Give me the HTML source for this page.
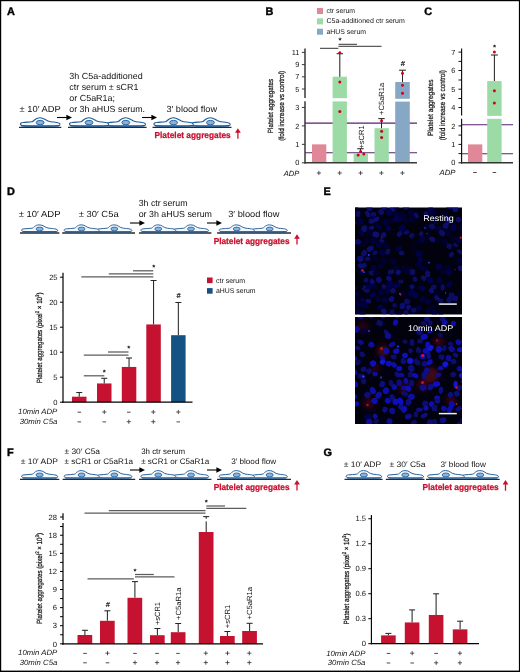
<!DOCTYPE html><html><head><meta charset="utf-8"><style>html,body{margin:0;padding:0;background:#fff}svg{display:block;will-change:transform;-webkit-font-smoothing:antialiased;text-rendering:geometricPrecision}</style></head><body>
<svg width="520" height="672" viewBox="0 0 520 672" font-family='"Liberation Sans", sans-serif'>
<rect x="0" y="0" width="520" height="672" fill="#fff"/>
<text x="6.9" y="14.7" font-size="10.9" text-anchor="start" font-weight="bold" font-style="normal" fill="#000" stroke="#000" stroke-width="0.4">A</text>
<text x="265.6" y="14.8" font-size="10.9" text-anchor="start" font-weight="bold" font-style="normal" fill="#000" stroke="#000" stroke-width="0.4">B</text>
<text x="424.3" y="14.8" font-size="10.9" text-anchor="start" font-weight="bold" font-style="normal" fill="#000" stroke="#000" stroke-width="0.4">C</text>
<text x="6.9" y="194.7" font-size="10.9" text-anchor="start" font-weight="bold" font-style="normal" fill="#000" stroke="#000" stroke-width="0.4">D</text>
<text x="323.6" y="195.2" font-size="10.9" text-anchor="start" font-weight="bold" font-style="normal" fill="#000" stroke="#000" stroke-width="0.4">E</text>
<text x="6.9" y="455.6" font-size="10.9" text-anchor="start" font-weight="bold" font-style="normal" fill="#000" stroke="#000" stroke-width="0.4">F</text>
<text x="323.6" y="455.6" font-size="10.9" text-anchor="start" font-weight="bold" font-style="normal" fill="#000" stroke="#000" stroke-width="0.4">G</text>
<text x="19.5" y="111.5" font-size="8.8" text-anchor="start" font-weight="normal" font-style="normal" fill="#111" textLength="41.2" lengthAdjust="spacingAndGlyphs">± 10′ ADP</text>
<text x="69.3" y="78.5" font-size="8.8" text-anchor="start" font-weight="normal" font-style="normal" fill="#111" textLength="73.4" lengthAdjust="spacingAndGlyphs">3h C5a-additioned</text>
<text x="69.3" y="89.5" font-size="8.8" text-anchor="start" font-weight="normal" font-style="normal" fill="#111" textLength="69.1" lengthAdjust="spacingAndGlyphs">ctr serum ± sCR1</text>
<text x="69.3" y="100.5" font-size="8.8" text-anchor="start" font-weight="normal" font-style="normal" fill="#111" textLength="45.7" lengthAdjust="spacingAndGlyphs">or C5aR1a;</text>
<text x="69.3" y="111.5" font-size="8.8" text-anchor="start" font-weight="normal" font-style="normal" fill="#111" textLength="75.7" lengthAdjust="spacingAndGlyphs">or 3h aHUS serum.</text>
<text x="166.5" y="111.5" font-size="8.8" text-anchor="start" font-weight="normal" font-style="normal" fill="#111" textLength="50.5" lengthAdjust="spacingAndGlyphs">3′ blood flow</text>
<line x1="57" y1="117.5" x2="69" y2="117.5" stroke="#000" stroke-width="1.1"/>
<path d="M 72,117.5 L 66.4,114.8 L 66.4,120.2 Z" fill="#000"/>
<line x1="142" y1="117.5" x2="154" y2="117.5" stroke="#000" stroke-width="1.1"/>
<path d="M 157,117.5 L 151.4,114.8 L 151.4,120.2 Z" fill="#000"/>
<line x1="19" y1="127.3" x2="61.3" y2="127.3" stroke="#2a2a2a" stroke-width="1.3"/>
<g transform="translate(20,117.35) scale(1.0075,1.0444)"><path d="M 0.5,6.8 C 0,5.6 1.5,5 3,4.9 C 6,4.6 9,4.5 11.7,4.2 C 14.2,3.9 14.3,0.55 19.5,0.35 C 24.7,0.15 25,3.6 30.3,4.2 C 33,4.5 35,4.6 36.5,4.9 C 38.5,5.3 40,5.8 39.6,7.2 C 39.3,8.3 37,8.4 20,8.4 C 3,8.4 1,8.2 0.5,6.8 Z" fill="#f6f9fd" stroke="#1d5c9a" stroke-width="1.05" stroke-linejoin="round"/><path d="M 1.5,8.3 L 38.5,8.3" stroke="#164a80" stroke-width="1.1"/><ellipse cx="20" cy="5.0" rx="3.9" ry="2.1" fill="#8db2da" stroke="#1d5c9a" stroke-width="0.9"/></g>
<line x1="68" y1="127.3" x2="146.6" y2="127.3" stroke="#2a2a2a" stroke-width="1.3"/>
<g transform="translate(105.80000000000001,117.35) scale(1.0000,1.0444)"><path d="M 0.5,6.8 C 0,5.6 1.5,5 3,4.9 C 6,4.6 9,4.5 11.7,4.2 C 14.2,3.9 14.3,0.55 19.5,0.35 C 24.7,0.15 25,3.6 30.3,4.2 C 33,4.5 35,4.6 36.5,4.9 C 38.5,5.3 40,5.8 39.6,7.2 C 39.3,8.3 37,8.4 20,8.4 C 3,8.4 1,8.2 0.5,6.8 Z" fill="#f6f9fd" stroke="#1d5c9a" stroke-width="1.05" stroke-linejoin="round"/><path d="M 1.5,8.3 L 38.5,8.3" stroke="#164a80" stroke-width="1.1"/><ellipse cx="20" cy="5.0" rx="3.9" ry="2.1" fill="#8db2da" stroke="#1d5c9a" stroke-width="0.9"/></g>
<g transform="translate(69,117.35) scale(1.0000,1.0444)"><path d="M 0.5,6.8 C 0,5.6 1.5,5 3,4.9 C 6,4.6 9,4.5 11.7,4.2 C 14.2,3.9 14.3,0.55 19.5,0.35 C 24.7,0.15 25,3.6 30.3,4.2 C 33,4.5 35,4.6 36.5,4.9 C 38.5,5.3 40,5.8 39.6,7.2 C 39.3,8.3 37,8.4 20,8.4 C 3,8.4 1,8.2 0.5,6.8 Z" fill="#f6f9fd" stroke="#1d5c9a" stroke-width="1.05" stroke-linejoin="round"/><path d="M 1.5,8.3 L 38.5,8.3" stroke="#164a80" stroke-width="1.1"/><ellipse cx="20" cy="5.0" rx="3.9" ry="2.1" fill="#8db2da" stroke="#1d5c9a" stroke-width="0.9"/></g>
<line x1="152.5" y1="127.3" x2="231.5" y2="127.3" stroke="#2a2a2a" stroke-width="1.3"/>
<g transform="translate(190.39583333333331,117.35) scale(1.0026,1.0444)"><path d="M 0.5,6.8 C 0,5.6 1.5,5 3,4.9 C 6,4.6 9,4.5 11.7,4.2 C 14.2,3.9 14.3,0.55 19.5,0.35 C 24.7,0.15 25,3.6 30.3,4.2 C 33,4.5 35,4.6 36.5,4.9 C 38.5,5.3 40,5.8 39.6,7.2 C 39.3,8.3 37,8.4 20,8.4 C 3,8.4 1,8.2 0.5,6.8 Z" fill="#f6f9fd" stroke="#1d5c9a" stroke-width="1.05" stroke-linejoin="round"/><path d="M 1.5,8.3 L 38.5,8.3" stroke="#164a80" stroke-width="1.1"/><ellipse cx="20" cy="5.0" rx="3.9" ry="2.1" fill="#8db2da" stroke="#1d5c9a" stroke-width="0.9"/></g>
<g transform="translate(153.5,117.35) scale(1.0026,1.0444)"><path d="M 0.5,6.8 C 0,5.6 1.5,5 3,4.9 C 6,4.6 9,4.5 11.7,4.2 C 14.2,3.9 14.3,0.55 19.5,0.35 C 24.7,0.15 25,3.6 30.3,4.2 C 33,4.5 35,4.6 36.5,4.9 C 38.5,5.3 40,5.8 39.6,7.2 C 39.3,8.3 37,8.4 20,8.4 C 3,8.4 1,8.2 0.5,6.8 Z" fill="#f6f9fd" stroke="#1d5c9a" stroke-width="1.05" stroke-linejoin="round"/><path d="M 1.5,8.3 L 38.5,8.3" stroke="#164a80" stroke-width="1.1"/><ellipse cx="20" cy="5.0" rx="3.9" ry="2.1" fill="#8db2da" stroke="#1d5c9a" stroke-width="0.9"/></g>
<text x="154.5" y="138" font-size="8.7" text-anchor="start" font-weight="bold" font-style="normal" fill="#c8102e" textLength="76.2" lengthAdjust="spacingAndGlyphs" stroke="#c8102e" stroke-width="0.25">Platelet aggregates</text>
<line x1="237.9" y1="130.4" x2="237.9" y2="138.8" stroke="#c8102e" stroke-width="1.3"/>
<path d="M 237.9,128.20000000000002 L 235.0,132.70000000000002 L 240.8,132.70000000000002 Z" fill="#c8102e"/>
<rect x="317" y="8.0" width="6" height="6" fill="#e08798"/>
<text x="326.5" y="13.2" font-size="6.9" text-anchor="start" font-weight="normal" font-style="normal" fill="#111" textLength="28.5" lengthAdjust="spacingAndGlyphs">ctr serum</text>
<rect x="317" y="18.35" width="6" height="6" fill="#9cdba5"/>
<text x="326.5" y="23.4" font-size="6.9" text-anchor="start" font-weight="normal" font-style="normal" fill="#111" textLength="78.3" lengthAdjust="spacingAndGlyphs">C5a-additioned ctr serum</text>
<rect x="317" y="28.7" width="6" height="6" fill="#87a8c5"/>
<text x="326.5" y="33.599999999999994" font-size="6.9" text-anchor="start" font-weight="normal" font-style="normal" fill="#111" textLength="39.5" lengthAdjust="spacingAndGlyphs">aHUS serum</text>
<line x1="305" y1="123.1" x2="417" y2="123.1" stroke="#581f72" stroke-width="1.1"/>
<line x1="305" y1="152.7" x2="417" y2="152.7" stroke="#581f72" stroke-width="1.1"/>
<rect x="312" y="144.35000000000002" width="14.3" height="18.44999999999999" fill="#e08798"/>
<rect x="332.6" y="76.7" width="14.3" height="86.10000000000001" fill="#9cdba5"/>
<rect x="353.7" y="153" width="14.3" height="9.800000000000011" fill="#9cdba5"/>
<rect x="374.5" y="128.2" width="14.3" height="34.60000000000002" fill="#9cdba5"/>
<rect x="395.2" y="82" width="14.6" height="80.80000000000001" fill="#87a8c5"/>
<rect x="330" y="98.2" width="20" height="3.2" fill="#fff"/>
<rect x="393" y="98.8" width="19" height="2.8" fill="#fff"/>
<line x1="339.8" y1="53.7" x2="339.8" y2="76.7" stroke="#262626" stroke-width="1.05"/>
<line x1="336.6" y1="53.7" x2="343.0" y2="53.7" stroke="#262626" stroke-width="1.05"/>
<line x1="360.5" y1="148.7" x2="360.5" y2="153" stroke="#262626" stroke-width="1.05"/>
<line x1="357.3" y1="148.7" x2="363.7" y2="148.7" stroke="#262626" stroke-width="1.05"/>
<line x1="381.5" y1="118.6" x2="381.5" y2="128.2" stroke="#262626" stroke-width="1.05"/>
<line x1="378.3" y1="118.6" x2="384.7" y2="118.6" stroke="#262626" stroke-width="1.05"/>
<line x1="402.5" y1="70.2" x2="402.5" y2="82" stroke="#262626" stroke-width="1.05"/>
<line x1="399.1" y1="70.2" x2="405.9" y2="70.2" stroke="#262626" stroke-width="1.05"/>
<circle cx="339.8" cy="52.8" r="1.5" fill="#d0021b"/>
<circle cx="339.8" cy="82" r="1.5" fill="#d0021b"/>
<circle cx="339.8" cy="111.5" r="1.5" fill="#d0021b"/>
<circle cx="358.2" cy="155" r="1.5" fill="#d0021b"/>
<circle cx="360.6" cy="151.6" r="1.5" fill="#d0021b"/>
<circle cx="363.8" cy="154" r="1.5" fill="#d0021b"/>
<circle cx="381.6" cy="120.8" r="1.5" fill="#d0021b"/>
<circle cx="381.6" cy="131.2" r="1.5" fill="#d0021b"/>
<circle cx="381.6" cy="137.5" r="1.5" fill="#d0021b"/>
<circle cx="402.5" cy="73.3" r="1.5" fill="#d0021b"/>
<circle cx="402.5" cy="85.2" r="1.5" fill="#d0021b"/>
<circle cx="402.5" cy="93.2" r="1.5" fill="#d0021b"/>
<line x1="305" y1="48.4" x2="305" y2="98" stroke="#383838" stroke-width="1.5"/>
<line x1="305" y1="101.2" x2="305" y2="163.5" stroke="#383838" stroke-width="1.5"/>
<line x1="304.3" y1="162.8" x2="417" y2="162.8" stroke="#383838" stroke-width="1.5"/>
<line x1="301.9" y1="52.400000000000006" x2="305" y2="52.400000000000006" stroke="#383838" stroke-width="1"/>
<text x="299.4" y="55.00000000000001" font-size="7.4" text-anchor="end" font-weight="normal" font-style="normal" fill="#111">11</text>
<line x1="301.9" y1="64.6" x2="305" y2="64.6" stroke="#383838" stroke-width="1"/>
<text x="299.4" y="67.19999999999999" font-size="7.4" text-anchor="end" font-weight="normal" font-style="normal" fill="#111">9</text>
<line x1="301.9" y1="76.8" x2="305" y2="76.8" stroke="#383838" stroke-width="1"/>
<text x="299.4" y="79.39999999999999" font-size="7.4" text-anchor="end" font-weight="normal" font-style="normal" fill="#111">7</text>
<line x1="301.9" y1="89.0" x2="305" y2="89.0" stroke="#383838" stroke-width="1"/>
<text x="299.4" y="91.6" font-size="7.4" text-anchor="end" font-weight="normal" font-style="normal" fill="#111">5</text>
<line x1="301.9" y1="107.45000000000002" x2="305" y2="107.45000000000002" stroke="#383838" stroke-width="1"/>
<text x="299.4" y="110.05000000000001" font-size="7.4" text-anchor="end" font-weight="normal" font-style="normal" fill="#111">3</text>
<line x1="301.9" y1="125.9" x2="305" y2="125.9" stroke="#383838" stroke-width="1"/>
<text x="299.4" y="128.5" font-size="7.4" text-anchor="end" font-weight="normal" font-style="normal" fill="#111">2</text>
<line x1="301.9" y1="144.35000000000002" x2="305" y2="144.35000000000002" stroke="#383838" stroke-width="1"/>
<text x="299.4" y="146.95000000000002" font-size="7.4" text-anchor="end" font-weight="normal" font-style="normal" fill="#111">1</text>
<line x1="301.9" y1="162.8" x2="305" y2="162.8" stroke="#383838" stroke-width="1"/>
<text x="299.4" y="165.4" font-size="7.4" text-anchor="end" font-weight="normal" font-style="normal" fill="#111">0</text>
<line x1="320" y1="48.3" x2="338.4" y2="48.3" stroke="#333" stroke-width="1"/>
<line x1="338.4" y1="46.3" x2="381.5" y2="46.3" stroke="#333" stroke-width="1"/>
<line x1="338.6" y1="44.3" x2="357" y2="44.3" stroke="#333" stroke-width="1"/>
<text x="340" y="42.800000000000004" font-size="7.8" text-anchor="middle" font-weight="bold" font-style="normal" fill="#000">*</text>
<text x="402.7" y="66.2" font-size="7.2" text-anchor="middle" font-weight="normal" font-style="italic" fill="#000" stroke="#000" stroke-width="0.15">#</text>
<text transform="translate(363.6,148.6) rotate(-90)" font-size="7.5" text-anchor="start" fill="#111" textLength="23.3" lengthAdjust="spacingAndGlyphs">+sCR1</text>
<text transform="translate(384.4,115) rotate(-90)" font-size="7.5" text-anchor="start" fill="#111" textLength="32.3" lengthAdjust="spacingAndGlyphs">+C5aR1a</text>
<text x="283.7" y="175.6" font-size="7.5" text-anchor="start" font-weight="normal" font-style="italic" fill="#111" textLength="15.6" lengthAdjust="spacingAndGlyphs">ADP</text>
<line x1="316.79999999999995" y1="173" x2="321.0" y2="173" stroke="#2a2a2a" stroke-width="0.78"/>
<line x1="318.9" y1="170.9" x2="318.9" y2="175.1" stroke="#2a2a2a" stroke-width="0.78"/>
<line x1="337.59999999999997" y1="173" x2="341.8" y2="173" stroke="#2a2a2a" stroke-width="0.78"/>
<line x1="339.7" y1="170.9" x2="339.7" y2="175.1" stroke="#2a2a2a" stroke-width="0.78"/>
<line x1="358.5" y1="173" x2="362.70000000000005" y2="173" stroke="#2a2a2a" stroke-width="0.78"/>
<line x1="360.6" y1="170.9" x2="360.6" y2="175.1" stroke="#2a2a2a" stroke-width="0.78"/>
<line x1="379.29999999999995" y1="173" x2="383.5" y2="173" stroke="#2a2a2a" stroke-width="0.78"/>
<line x1="381.4" y1="170.9" x2="381.4" y2="175.1" stroke="#2a2a2a" stroke-width="0.78"/>
<line x1="400.29999999999995" y1="173" x2="404.5" y2="173" stroke="#2a2a2a" stroke-width="0.78"/>
<line x1="402.4" y1="170.9" x2="402.4" y2="175.1" stroke="#2a2a2a" stroke-width="0.78"/>
<text transform="translate(273.1,133.2) rotate(-90)" font-size="7.5" text-anchor="start" fill="#111" textLength="54.3" lengthAdjust="spacingAndGlyphs" stroke="#111" stroke-width="0.22">Platelet aggregates</text>
<text transform="translate(284.2,140.8) rotate(-90)" font-size="7.5" text-anchor="start" fill="#111" textLength="70" lengthAdjust="spacingAndGlyphs" stroke="#111" stroke-width="0.22">(fold increase vs control)</text>
<line x1="461.6" y1="124.8" x2="513" y2="124.8" stroke="#581f72" stroke-width="1.05"/>
<line x1="461.6" y1="153.8" x2="513" y2="153.8" stroke="#581f72" stroke-width="1.05"/>
<rect x="468" y="144.4" width="14.3" height="18.400000000000006" fill="#e08798"/>
<rect x="487.2" y="81.1" width="14.4" height="81.70000000000002" fill="#9cdba5"/>
<rect x="485" y="115.9" width="19" height="2.9" fill="#fff"/>
<line x1="494.4" y1="55" x2="494.4" y2="81.1" stroke="#262626" stroke-width="1.05"/>
<line x1="490.95" y1="55" x2="497.84999999999997" y2="55" stroke="#262626" stroke-width="1.05"/>
<circle cx="494.4" cy="52.1" r="1.5" fill="#d0021b"/>
<circle cx="494.4" cy="90.7" r="1.5" fill="#d0021b"/>
<circle cx="494.4" cy="103" r="1.5" fill="#d0021b"/>
<line x1="461.6" y1="48.4" x2="461.6" y2="115.6" stroke="#111" stroke-width="1.15"/>
<line x1="461.6" y1="118.8" x2="461.6" y2="163.4" stroke="#111" stroke-width="1.15"/>
<line x1="461" y1="162.8" x2="513" y2="162.8" stroke="#333" stroke-width="1.4"/>
<line x1="458.5" y1="52.1" x2="461.6" y2="52.1" stroke="#111" stroke-width="1"/>
<text x="455.4" y="54.7" font-size="7.4" text-anchor="end" font-weight="normal" font-style="normal" fill="#111">7</text>
<line x1="458.5" y1="70.5" x2="461.6" y2="70.5" stroke="#111" stroke-width="1"/>
<text x="455.4" y="73.1" font-size="7.4" text-anchor="end" font-weight="normal" font-style="normal" fill="#111">6</text>
<line x1="458.5" y1="89.2" x2="461.6" y2="89.2" stroke="#111" stroke-width="1"/>
<text x="455.4" y="91.8" font-size="7.4" text-anchor="end" font-weight="normal" font-style="normal" fill="#111">5</text>
<line x1="458.5" y1="107.5" x2="461.6" y2="107.5" stroke="#111" stroke-width="1"/>
<text x="455.4" y="110.1" font-size="7.4" text-anchor="end" font-weight="normal" font-style="normal" fill="#111">4</text>
<line x1="458.5" y1="125.9" x2="461.6" y2="125.9" stroke="#111" stroke-width="1"/>
<text x="455.4" y="128.5" font-size="7.4" text-anchor="end" font-weight="normal" font-style="normal" fill="#111">2</text>
<line x1="458.5" y1="144.4" x2="461.6" y2="144.4" stroke="#111" stroke-width="1"/>
<text x="455.4" y="147.0" font-size="7.4" text-anchor="end" font-weight="normal" font-style="normal" fill="#111">1</text>
<line x1="458.5" y1="162.8" x2="461.6" y2="162.8" stroke="#111" stroke-width="1"/>
<text x="455.4" y="165.4" font-size="7.4" text-anchor="end" font-weight="normal" font-style="normal" fill="#111">0</text>
<line x1="458.5" y1="61.4" x2="461.6" y2="61.4" stroke="#111" stroke-width="1"/>
<line x1="458.5" y1="80" x2="461.6" y2="80" stroke="#111" stroke-width="1"/>
<line x1="458.5" y1="98.5" x2="461.6" y2="98.5" stroke="#111" stroke-width="1"/>
<line x1="458.5" y1="135.1" x2="461.6" y2="135.1" stroke="#111" stroke-width="1"/>
<line x1="458.5" y1="153.6" x2="461.6" y2="153.6" stroke="#111" stroke-width="1"/>
<text x="494.4" y="50.1" font-size="7.8" text-anchor="middle" font-weight="bold" font-style="normal" fill="#000">*</text>
<text x="439.5" y="175" font-size="7.5" text-anchor="start" font-weight="normal" font-style="italic" fill="#111" textLength="16" lengthAdjust="spacingAndGlyphs">ADP</text>
<line x1="473.2" y1="172.5" x2="476.8" y2="172.5" stroke="#2a2a2a" stroke-width="0.85"/>
<line x1="492.59999999999997" y1="172.5" x2="496.2" y2="172.5" stroke="#2a2a2a" stroke-width="0.85"/>
<text transform="translate(433,136) rotate(-90)" font-size="7.7" text-anchor="start" fill="#111" textLength="56.6" lengthAdjust="spacingAndGlyphs" stroke="#111" stroke-width="0.22">Platelet aggregates</text>
<text transform="translate(445,140.3) rotate(-90)" font-size="7.7" text-anchor="start" fill="#111" textLength="70.3" lengthAdjust="spacingAndGlyphs" stroke="#111" stroke-width="0.22">(fold increase vs control)</text>
<text x="18.7" y="217" font-size="8.8" text-anchor="start" font-weight="normal" font-style="normal" fill="#111" textLength="41.8" lengthAdjust="spacingAndGlyphs">± 10′ ADP</text>
<text x="78.7" y="217" font-size="8.8" text-anchor="start" font-weight="normal" font-style="normal" fill="#111" textLength="40" lengthAdjust="spacingAndGlyphs">± 30′ C5a</text>
<text x="138.7" y="205.5" font-size="8.8" text-anchor="start" font-weight="normal" font-style="normal" fill="#111" textLength="48.8" lengthAdjust="spacingAndGlyphs">3h ctr serum</text>
<text x="138.7" y="217" font-size="8.8" text-anchor="start" font-weight="normal" font-style="normal" fill="#111" textLength="73.3" lengthAdjust="spacingAndGlyphs">or 3h aHUS serum</text>
<text x="228.2" y="217" font-size="8.8" text-anchor="start" font-weight="normal" font-style="normal" fill="#111" textLength="51.3" lengthAdjust="spacingAndGlyphs">3′ blood flow</text>
<line x1="20" y1="233" x2="59.3" y2="233" stroke="#2a2a2a" stroke-width="1.3"/>
<g transform="translate(21.2,224.55) scale(0.9200,0.8778)"><path d="M 0.5,6.8 C 0,5.6 1.5,5 3,4.9 C 6,4.6 9,4.5 11.7,4.2 C 14.2,3.9 14.3,0.55 19.5,0.35 C 24.7,0.15 25,3.6 30.3,4.2 C 33,4.5 35,4.6 36.5,4.9 C 38.5,5.3 40,5.8 39.6,7.2 C 39.3,8.3 37,8.4 20,8.4 C 3,8.4 1,8.2 0.5,6.8 Z" fill="#f6f9fd" stroke="#1d5c9a" stroke-width="1.05" stroke-linejoin="round"/><path d="M 1.5,8.3 L 38.5,8.3" stroke="#164a80" stroke-width="1.1"/><ellipse cx="20" cy="5.0" rx="3.9" ry="2.1" fill="#8db2da" stroke="#1d5c9a" stroke-width="0.9"/></g>
<line x1="62.2" y1="233" x2="135" y2="233" stroke="#2a2a2a" stroke-width="1.3"/>
<g transform="translate(96.52291666666666,224.55) scale(0.8919,0.8778)"><path d="M 0.5,6.8 C 0,5.6 1.5,5 3,4.9 C 6,4.6 9,4.5 11.7,4.2 C 14.2,3.9 14.3,0.55 19.5,0.35 C 24.7,0.15 25,3.6 30.3,4.2 C 33,4.5 35,4.6 36.5,4.9 C 38.5,5.3 40,5.8 39.6,7.2 C 39.3,8.3 37,8.4 20,8.4 C 3,8.4 1,8.2 0.5,6.8 Z" fill="#f6f9fd" stroke="#1d5c9a" stroke-width="1.05" stroke-linejoin="round"/><path d="M 1.5,8.3 L 38.5,8.3" stroke="#164a80" stroke-width="1.1"/><ellipse cx="20" cy="5.0" rx="3.9" ry="2.1" fill="#8db2da" stroke="#1d5c9a" stroke-width="0.9"/></g>
<g transform="translate(63.7,224.55) scale(0.8919,0.8778)"><path d="M 0.5,6.8 C 0,5.6 1.5,5 3,4.9 C 6,4.6 9,4.5 11.7,4.2 C 14.2,3.9 14.3,0.55 19.5,0.35 C 24.7,0.15 25,3.6 30.3,4.2 C 33,4.5 35,4.6 36.5,4.9 C 38.5,5.3 40,5.8 39.6,7.2 C 39.3,8.3 37,8.4 20,8.4 C 3,8.4 1,8.2 0.5,6.8 Z" fill="#f6f9fd" stroke="#1d5c9a" stroke-width="1.05" stroke-linejoin="round"/><path d="M 1.5,8.3 L 38.5,8.3" stroke="#164a80" stroke-width="1.1"/><ellipse cx="20" cy="5.0" rx="3.9" ry="2.1" fill="#8db2da" stroke="#1d5c9a" stroke-width="0.9"/></g>
<line x1="139" y1="233" x2="211.4" y2="233" stroke="#2a2a2a" stroke-width="1.3"/>
<g transform="translate(173.22708333333333,224.55) scale(0.8893,0.8778)"><path d="M 0.5,6.8 C 0,5.6 1.5,5 3,4.9 C 6,4.6 9,4.5 11.7,4.2 C 14.2,3.9 14.3,0.55 19.5,0.35 C 24.7,0.15 25,3.6 30.3,4.2 C 33,4.5 35,4.6 36.5,4.9 C 38.5,5.3 40,5.8 39.6,7.2 C 39.3,8.3 37,8.4 20,8.4 C 3,8.4 1,8.2 0.5,6.8 Z" fill="#f6f9fd" stroke="#1d5c9a" stroke-width="1.05" stroke-linejoin="round"/><path d="M 1.5,8.3 L 38.5,8.3" stroke="#164a80" stroke-width="1.1"/><ellipse cx="20" cy="5.0" rx="3.9" ry="2.1" fill="#8db2da" stroke="#1d5c9a" stroke-width="0.9"/></g>
<g transform="translate(140.5,224.55) scale(0.8893,0.8778)"><path d="M 0.5,6.8 C 0,5.6 1.5,5 3,4.9 C 6,4.6 9,4.5 11.7,4.2 C 14.2,3.9 14.3,0.55 19.5,0.35 C 24.7,0.15 25,3.6 30.3,4.2 C 33,4.5 35,4.6 36.5,4.9 C 38.5,5.3 40,5.8 39.6,7.2 C 39.3,8.3 37,8.4 20,8.4 C 3,8.4 1,8.2 0.5,6.8 Z" fill="#f6f9fd" stroke="#1d5c9a" stroke-width="1.05" stroke-linejoin="round"/><path d="M 1.5,8.3 L 38.5,8.3" stroke="#164a80" stroke-width="1.1"/><ellipse cx="20" cy="5.0" rx="3.9" ry="2.1" fill="#8db2da" stroke="#1d5c9a" stroke-width="0.9"/></g>
<line x1="217.1" y1="233" x2="291" y2="233" stroke="#2a2a2a" stroke-width="1.3"/>
<g transform="translate(251.76666666666668,224.55) scale(0.8958,0.8778)"><path d="M 0.5,6.8 C 0,5.6 1.5,5 3,4.9 C 6,4.6 9,4.5 11.7,4.2 C 14.2,3.9 14.3,0.55 19.5,0.35 C 24.7,0.15 25,3.6 30.3,4.2 C 33,4.5 35,4.6 36.5,4.9 C 38.5,5.3 40,5.8 39.6,7.2 C 39.3,8.3 37,8.4 20,8.4 C 3,8.4 1,8.2 0.5,6.8 Z" fill="#f6f9fd" stroke="#1d5c9a" stroke-width="1.05" stroke-linejoin="round"/><path d="M 1.5,8.3 L 38.5,8.3" stroke="#164a80" stroke-width="1.1"/><ellipse cx="20" cy="5.0" rx="3.9" ry="2.1" fill="#8db2da" stroke="#1d5c9a" stroke-width="0.9"/></g>
<g transform="translate(218.8,224.55) scale(0.8958,0.8778)"><path d="M 0.5,6.8 C 0,5.6 1.5,5 3,4.9 C 6,4.6 9,4.5 11.7,4.2 C 14.2,3.9 14.3,0.55 19.5,0.35 C 24.7,0.15 25,3.6 30.3,4.2 C 33,4.5 35,4.6 36.5,4.9 C 38.5,5.3 40,5.8 39.6,7.2 C 39.3,8.3 37,8.4 20,8.4 C 3,8.4 1,8.2 0.5,6.8 Z" fill="#f6f9fd" stroke="#1d5c9a" stroke-width="1.05" stroke-linejoin="round"/><path d="M 1.5,8.3 L 38.5,8.3" stroke="#164a80" stroke-width="1.1"/><ellipse cx="20" cy="5.0" rx="3.9" ry="2.1" fill="#8db2da" stroke="#1d5c9a" stroke-width="0.9"/></g>
<line x1="130" y1="223" x2="142" y2="223" stroke="#000" stroke-width="1.1"/>
<path d="M 145,223 L 139.4,220.3 L 139.4,225.7 Z" fill="#000"/>
<line x1="207" y1="223" x2="219" y2="223" stroke="#000" stroke-width="1.1"/>
<path d="M 222,223 L 216.4,220.3 L 216.4,225.7 Z" fill="#000"/>
<text x="213.7" y="244.3" font-size="8.7" text-anchor="start" font-weight="bold" font-style="normal" fill="#c8102e" textLength="75.8" lengthAdjust="spacingAndGlyphs" stroke="#c8102e" stroke-width="0.25">Platelet aggregates</text>
<line x1="297" y1="236.4" x2="297" y2="244.6" stroke="#c8102e" stroke-width="1.3"/>
<path d="M 297,234.20000000000002 L 294.1,238.70000000000002 L 299.9,238.70000000000002 Z" fill="#c8102e"/>
<line x1="79.25" y1="392.5" x2="79.25" y2="396.7" stroke="#262626" stroke-width="1.05"/>
<line x1="76.25" y1="392.5" x2="82.25" y2="392.5" stroke="#262626" stroke-width="1.05"/>
<rect x="72" y="396.7" width="14.5" height="5.5" fill="#c41230"/>
<line x1="104.25" y1="378.3" x2="104.25" y2="383.45" stroke="#262626" stroke-width="1.05"/>
<line x1="101.25" y1="378.3" x2="107.25" y2="378.3" stroke="#262626" stroke-width="1.05"/>
<rect x="97" y="383.45" width="14.5" height="18.75" fill="#c41230"/>
<line x1="129.05" y1="358" x2="129.05" y2="366.95" stroke="#262626" stroke-width="1.05"/>
<line x1="126.05000000000001" y1="358" x2="132.05" y2="358" stroke="#262626" stroke-width="1.05"/>
<rect x="121.8" y="366.95" width="14.5" height="35.25" fill="#c41230"/>
<line x1="153.55" y1="280.5" x2="153.55" y2="324.45" stroke="#262626" stroke-width="1.05"/>
<line x1="150.55" y1="280.5" x2="156.55" y2="280.5" stroke="#262626" stroke-width="1.05"/>
<rect x="146.3" y="324.45" width="14.5" height="77.75" fill="#c41230"/>
<line x1="178.35" y1="302.5" x2="178.35" y2="335.2" stroke="#262626" stroke-width="1.05"/>
<line x1="175.35" y1="302.5" x2="181.35" y2="302.5" stroke="#262626" stroke-width="1.05"/>
<rect x="171.1" y="335.2" width="14.5" height="67.0" fill="#145284"/>
<line x1="63" y1="272.8" x2="63" y2="402.8" stroke="#000" stroke-width="1.2"/>
<line x1="62.4" y1="402.2" x2="192.5" y2="402.2" stroke="#000" stroke-width="1.2"/>
<line x1="60" y1="402.2" x2="63" y2="402.2" stroke="#000" stroke-width="1"/>
<text x="57.6" y="404.9" font-size="7.6" text-anchor="end" font-weight="normal" font-style="normal" fill="#111">0</text>
<line x1="60" y1="377.2" x2="63" y2="377.2" stroke="#000" stroke-width="1"/>
<text x="57.6" y="379.9" font-size="7.6" text-anchor="end" font-weight="normal" font-style="normal" fill="#111">5</text>
<line x1="60" y1="352.2" x2="63" y2="352.2" stroke="#000" stroke-width="1"/>
<text x="57.6" y="354.9" font-size="7.6" text-anchor="end" font-weight="normal" font-style="normal" fill="#111">10</text>
<line x1="60" y1="327.2" x2="63" y2="327.2" stroke="#000" stroke-width="1"/>
<text x="57.6" y="329.9" font-size="7.6" text-anchor="end" font-weight="normal" font-style="normal" fill="#111">15</text>
<line x1="60" y1="302.2" x2="63" y2="302.2" stroke="#000" stroke-width="1"/>
<text x="57.6" y="304.9" font-size="7.6" text-anchor="end" font-weight="normal" font-style="normal" fill="#111">20</text>
<line x1="60" y1="277.2" x2="63" y2="277.2" stroke="#000" stroke-width="1"/>
<text x="57.6" y="279.9" font-size="7.6" text-anchor="end" font-weight="normal" font-style="normal" fill="#111">25</text>
<line x1="81.3" y1="276.9" x2="153.3" y2="276.9" stroke="#5c5c5c" stroke-width="1.25"/>
<line x1="108.8" y1="273.9" x2="153.3" y2="273.9" stroke="#5c5c5c" stroke-width="1.25"/>
<line x1="133" y1="270.8" x2="153.3" y2="270.8" stroke="#5c5c5c" stroke-width="1.25"/>
<line x1="83.8" y1="355" x2="128.5" y2="355" stroke="#5c5c5c" stroke-width="1.25"/>
<line x1="108" y1="352" x2="128.5" y2="352" stroke="#5c5c5c" stroke-width="1.25"/>
<line x1="83.8" y1="375.8" x2="104.3" y2="375.8" stroke="#5c5c5c" stroke-width="1.25"/>
<text x="153.8" y="269.5" font-size="7.8" text-anchor="middle" font-weight="bold" font-style="normal" fill="#000">*</text>
<text x="128.8" y="351.0" font-size="7.8" text-anchor="middle" font-weight="bold" font-style="normal" fill="#000">*</text>
<text x="104.3" y="375.4" font-size="7.8" text-anchor="middle" font-weight="bold" font-style="normal" fill="#000">*</text>
<text x="178.5" y="298.4" font-size="7.2" text-anchor="middle" font-weight="normal" font-style="italic" fill="#000" stroke="#000" stroke-width="0.15">#</text>
<rect x="207" y="277.5" width="5.6" height="5.6" fill="#c41230"/>
<rect x="207" y="288.1" width="5.6" height="5.6" fill="#145284"/>
<text x="216" y="282.6" font-size="6.9" text-anchor="start" font-weight="normal" font-style="normal" fill="#111" textLength="29" lengthAdjust="spacingAndGlyphs">ctr serum</text>
<text x="216" y="293.1" font-size="6.9" text-anchor="start" font-weight="normal" font-style="normal" fill="#111" textLength="39.5" lengthAdjust="spacingAndGlyphs">aHUS serum</text>
<text x="57.3" y="414.3" font-size="7.6" text-anchor="end" font-weight="normal" font-style="italic" fill="#111" textLength="39.2" lengthAdjust="spacingAndGlyphs">10min ADP</text>
<text x="57.3" y="423.9" font-size="7.6" text-anchor="end" font-weight="normal" font-style="italic" fill="#111" textLength="37.6" lengthAdjust="spacingAndGlyphs">30min C5a</text>
<line x1="77.5" y1="412.2" x2="81.1" y2="412.2" stroke="#2a2a2a" stroke-width="0.85"/>
<line x1="77.5" y1="421.9" x2="81.1" y2="421.9" stroke="#2a2a2a" stroke-width="0.85"/>
<line x1="102.2" y1="412" x2="106.39999999999999" y2="412" stroke="#2a2a2a" stroke-width="0.78"/>
<line x1="104.3" y1="409.9" x2="104.3" y2="414.1" stroke="#2a2a2a" stroke-width="0.78"/>
<line x1="102.5" y1="421.9" x2="106.1" y2="421.9" stroke="#2a2a2a" stroke-width="0.85"/>
<line x1="127.00000000000001" y1="412.2" x2="130.60000000000002" y2="412.2" stroke="#2a2a2a" stroke-width="0.85"/>
<line x1="126.70000000000002" y1="421.7" x2="130.9" y2="421.7" stroke="#2a2a2a" stroke-width="0.78"/>
<line x1="128.8" y1="419.59999999999997" x2="128.8" y2="423.8" stroke="#2a2a2a" stroke-width="0.78"/>
<line x1="151.20000000000002" y1="412" x2="155.4" y2="412" stroke="#2a2a2a" stroke-width="0.78"/>
<line x1="153.3" y1="409.9" x2="153.3" y2="414.1" stroke="#2a2a2a" stroke-width="0.78"/>
<line x1="151.20000000000002" y1="421.7" x2="155.4" y2="421.7" stroke="#2a2a2a" stroke-width="0.78"/>
<line x1="153.3" y1="419.59999999999997" x2="153.3" y2="423.8" stroke="#2a2a2a" stroke-width="0.78"/>
<line x1="176.20000000000002" y1="412" x2="180.4" y2="412" stroke="#2a2a2a" stroke-width="0.78"/>
<line x1="178.3" y1="409.9" x2="178.3" y2="414.1" stroke="#2a2a2a" stroke-width="0.78"/>
<line x1="176.5" y1="421.9" x2="180.10000000000002" y2="421.9" stroke="#2a2a2a" stroke-width="0.85"/>
<text transform="translate(42,383.2) rotate(-90)" font-size="7.5" text-anchor="start" fill="#111" textLength="90.7" lengthAdjust="spacingAndGlyphs" stroke="#111" stroke-width="0.22">Platelet aggregates (pixel<tspan dy="-2.6" font-size="5.2">2</tspan><tspan dy="2.6"> × 10</tspan><tspan dy="-2.6" font-size="5.2">3</tspan><tspan dy="2.6">)</tspan></text>
<text x="20.7" y="463.8" font-size="8.0" text-anchor="start" font-weight="normal" font-style="normal" fill="#111" textLength="37.3" lengthAdjust="spacingAndGlyphs">± 10′ ADP</text>
<text x="64.5" y="453.8" font-size="8.0" text-anchor="start" font-weight="normal" font-style="normal" fill="#111" textLength="35.5" lengthAdjust="spacingAndGlyphs">± 30′ C5a</text>
<text x="64.5" y="463.8" font-size="8.0" text-anchor="start" font-weight="normal" font-style="normal" fill="#111" textLength="68.5" lengthAdjust="spacingAndGlyphs">± sCR1 or C5aR1a</text>
<text x="141.2" y="453.8" font-size="8.0" text-anchor="start" font-weight="normal" font-style="normal" fill="#111" textLength="43.8" lengthAdjust="spacingAndGlyphs">3h ctr serum</text>
<text x="141.2" y="463.8" font-size="8.0" text-anchor="start" font-weight="normal" font-style="normal" fill="#111" textLength="68" lengthAdjust="spacingAndGlyphs">± sCR1 or C5aR1a</text>
<text x="231.2" y="463.8" font-size="8.0" text-anchor="start" font-weight="normal" font-style="normal" fill="#111" textLength="45" lengthAdjust="spacingAndGlyphs">3′ blood flow</text>
<line x1="20" y1="479.3" x2="59.3" y2="479.3" stroke="#2a2a2a" stroke-width="1.3"/>
<g transform="translate(21.2,470.25) scale(0.9200,0.9444)"><path d="M 0.5,6.8 C 0,5.6 1.5,5 3,4.9 C 6,4.6 9,4.5 11.7,4.2 C 14.2,3.9 14.3,0.55 19.5,0.35 C 24.7,0.15 25,3.6 30.3,4.2 C 33,4.5 35,4.6 36.5,4.9 C 38.5,5.3 40,5.8 39.6,7.2 C 39.3,8.3 37,8.4 20,8.4 C 3,8.4 1,8.2 0.5,6.8 Z" fill="#f6f9fd" stroke="#1d5c9a" stroke-width="1.05" stroke-linejoin="round"/><path d="M 1.5,8.3 L 38.5,8.3" stroke="#164a80" stroke-width="1.1"/><ellipse cx="20" cy="5.0" rx="3.9" ry="2.1" fill="#8db2da" stroke="#1d5c9a" stroke-width="0.9"/></g>
<line x1="62.6" y1="479.3" x2="135.2" y2="479.3" stroke="#2a2a2a" stroke-width="1.3"/>
<g transform="translate(96.57499999999999,470.25) scale(0.8906,0.9444)"><path d="M 0.5,6.8 C 0,5.6 1.5,5 3,4.9 C 6,4.6 9,4.5 11.7,4.2 C 14.2,3.9 14.3,0.55 19.5,0.35 C 24.7,0.15 25,3.6 30.3,4.2 C 33,4.5 35,4.6 36.5,4.9 C 38.5,5.3 40,5.8 39.6,7.2 C 39.3,8.3 37,8.4 20,8.4 C 3,8.4 1,8.2 0.5,6.8 Z" fill="#f6f9fd" stroke="#1d5c9a" stroke-width="1.05" stroke-linejoin="round"/><path d="M 1.5,8.3 L 38.5,8.3" stroke="#164a80" stroke-width="1.1"/><ellipse cx="20" cy="5.0" rx="3.9" ry="2.1" fill="#8db2da" stroke="#1d5c9a" stroke-width="0.9"/></g>
<g transform="translate(63.8,470.25) scale(0.8906,0.9444)"><path d="M 0.5,6.8 C 0,5.6 1.5,5 3,4.9 C 6,4.6 9,4.5 11.7,4.2 C 14.2,3.9 14.3,0.55 19.5,0.35 C 24.7,0.15 25,3.6 30.3,4.2 C 33,4.5 35,4.6 36.5,4.9 C 38.5,5.3 40,5.8 39.6,7.2 C 39.3,8.3 37,8.4 20,8.4 C 3,8.4 1,8.2 0.5,6.8 Z" fill="#f6f9fd" stroke="#1d5c9a" stroke-width="1.05" stroke-linejoin="round"/><path d="M 1.5,8.3 L 38.5,8.3" stroke="#164a80" stroke-width="1.1"/><ellipse cx="20" cy="5.0" rx="3.9" ry="2.1" fill="#8db2da" stroke="#1d5c9a" stroke-width="0.9"/></g>
<line x1="139" y1="479.3" x2="211.4" y2="479.3" stroke="#2a2a2a" stroke-width="1.3"/>
<g transform="translate(173.22708333333333,470.25) scale(0.8893,0.9444)"><path d="M 0.5,6.8 C 0,5.6 1.5,5 3,4.9 C 6,4.6 9,4.5 11.7,4.2 C 14.2,3.9 14.3,0.55 19.5,0.35 C 24.7,0.15 25,3.6 30.3,4.2 C 33,4.5 35,4.6 36.5,4.9 C 38.5,5.3 40,5.8 39.6,7.2 C 39.3,8.3 37,8.4 20,8.4 C 3,8.4 1,8.2 0.5,6.8 Z" fill="#f6f9fd" stroke="#1d5c9a" stroke-width="1.05" stroke-linejoin="round"/><path d="M 1.5,8.3 L 38.5,8.3" stroke="#164a80" stroke-width="1.1"/><ellipse cx="20" cy="5.0" rx="3.9" ry="2.1" fill="#8db2da" stroke="#1d5c9a" stroke-width="0.9"/></g>
<g transform="translate(140.5,470.25) scale(0.8893,0.9444)"><path d="M 0.5,6.8 C 0,5.6 1.5,5 3,4.9 C 6,4.6 9,4.5 11.7,4.2 C 14.2,3.9 14.3,0.55 19.5,0.35 C 24.7,0.15 25,3.6 30.3,4.2 C 33,4.5 35,4.6 36.5,4.9 C 38.5,5.3 40,5.8 39.6,7.2 C 39.3,8.3 37,8.4 20,8.4 C 3,8.4 1,8.2 0.5,6.8 Z" fill="#f6f9fd" stroke="#1d5c9a" stroke-width="1.05" stroke-linejoin="round"/><path d="M 1.5,8.3 L 38.5,8.3" stroke="#164a80" stroke-width="1.1"/><ellipse cx="20" cy="5.0" rx="3.9" ry="2.1" fill="#8db2da" stroke="#1d5c9a" stroke-width="0.9"/></g>
<line x1="217.1" y1="479.3" x2="291" y2="479.3" stroke="#2a2a2a" stroke-width="1.3"/>
<g transform="translate(251.76666666666668,470.25) scale(0.8958,0.9444)"><path d="M 0.5,6.8 C 0,5.6 1.5,5 3,4.9 C 6,4.6 9,4.5 11.7,4.2 C 14.2,3.9 14.3,0.55 19.5,0.35 C 24.7,0.15 25,3.6 30.3,4.2 C 33,4.5 35,4.6 36.5,4.9 C 38.5,5.3 40,5.8 39.6,7.2 C 39.3,8.3 37,8.4 20,8.4 C 3,8.4 1,8.2 0.5,6.8 Z" fill="#f6f9fd" stroke="#1d5c9a" stroke-width="1.05" stroke-linejoin="round"/><path d="M 1.5,8.3 L 38.5,8.3" stroke="#164a80" stroke-width="1.1"/><ellipse cx="20" cy="5.0" rx="3.9" ry="2.1" fill="#8db2da" stroke="#1d5c9a" stroke-width="0.9"/></g>
<g transform="translate(218.8,470.25) scale(0.8958,0.9444)"><path d="M 0.5,6.8 C 0,5.6 1.5,5 3,4.9 C 6,4.6 9,4.5 11.7,4.2 C 14.2,3.9 14.3,0.55 19.5,0.35 C 24.7,0.15 25,3.6 30.3,4.2 C 33,4.5 35,4.6 36.5,4.9 C 38.5,5.3 40,5.8 39.6,7.2 C 39.3,8.3 37,8.4 20,8.4 C 3,8.4 1,8.2 0.5,6.8 Z" fill="#f6f9fd" stroke="#1d5c9a" stroke-width="1.05" stroke-linejoin="round"/><path d="M 1.5,8.3 L 38.5,8.3" stroke="#164a80" stroke-width="1.1"/><ellipse cx="20" cy="5.0" rx="3.9" ry="2.1" fill="#8db2da" stroke="#1d5c9a" stroke-width="0.9"/></g>
<line x1="130" y1="470" x2="142" y2="470" stroke="#000" stroke-width="1.1"/>
<path d="M 145,470 L 139.4,467.3 L 139.4,472.7 Z" fill="#000"/>
<line x1="207" y1="470" x2="219" y2="470" stroke="#000" stroke-width="1.1"/>
<path d="M 222,470 L 216.4,467.3 L 216.4,472.7 Z" fill="#000"/>
<text x="213.7" y="490" font-size="8.7" text-anchor="start" font-weight="bold" font-style="normal" fill="#c8102e" textLength="75.8" lengthAdjust="spacingAndGlyphs" stroke="#c8102e" stroke-width="0.25">Platelet aggregates</text>
<line x1="297" y1="482.3" x2="297" y2="490.5" stroke="#c8102e" stroke-width="1.3"/>
<path d="M 297,480.1 L 294.1,484.6 L 299.9,484.6 Z" fill="#c8102e"/>
<line x1="84.9" y1="630.3" x2="84.9" y2="635" stroke="#262626" stroke-width="1.05"/>
<line x1="81.9" y1="630.3" x2="87.9" y2="630.3" stroke="#262626" stroke-width="1.05"/>
<rect x="77.5" y="635" width="14.7" height="8.799999999999955" fill="#c41230"/>
<line x1="107.4" y1="610.8" x2="107.4" y2="620.8" stroke="#262626" stroke-width="1.05"/>
<line x1="104.4" y1="610.8" x2="110.4" y2="610.8" stroke="#262626" stroke-width="1.05"/>
<rect x="100" y="620.8" width="14.7" height="23.0" fill="#c41230"/>
<line x1="134.9" y1="581.6" x2="134.9" y2="597.8" stroke="#262626" stroke-width="1.05"/>
<line x1="131.9" y1="581.6" x2="137.9" y2="581.6" stroke="#262626" stroke-width="1.05"/>
<rect x="127.5" y="597.8" width="14.7" height="46.0" fill="#c41230"/>
<line x1="157.4" y1="628.5" x2="157.4" y2="635.2" stroke="#262626" stroke-width="1.05"/>
<line x1="154.4" y1="628.5" x2="160.4" y2="628.5" stroke="#262626" stroke-width="1.05"/>
<rect x="150" y="635.2" width="14.7" height="8.599999999999909" fill="#c41230"/>
<line x1="178.20000000000002" y1="623.5" x2="178.20000000000002" y2="632.2" stroke="#262626" stroke-width="1.05"/>
<line x1="175.20000000000002" y1="623.5" x2="181.20000000000002" y2="623.5" stroke="#262626" stroke-width="1.05"/>
<rect x="170.8" y="632.2" width="14.7" height="11.599999999999909" fill="#c41230"/>
<line x1="206.20000000000002" y1="516.6" x2="206.20000000000002" y2="532" stroke="#262626" stroke-width="1.05"/>
<line x1="203.20000000000002" y1="516.6" x2="209.20000000000002" y2="516.6" stroke="#262626" stroke-width="1.05"/>
<rect x="198.8" y="532" width="14.7" height="111.79999999999995" fill="#c41230"/>
<line x1="227.4" y1="631.5" x2="227.4" y2="636" stroke="#262626" stroke-width="1.05"/>
<line x1="224.4" y1="631.5" x2="230.4" y2="631.5" stroke="#262626" stroke-width="1.05"/>
<rect x="220" y="636" width="14.7" height="7.7999999999999545" fill="#c41230"/>
<line x1="249.6" y1="623.3" x2="249.6" y2="631" stroke="#262626" stroke-width="1.05"/>
<line x1="246.6" y1="623.3" x2="252.6" y2="623.3" stroke="#262626" stroke-width="1.05"/>
<rect x="242.2" y="631" width="14.7" height="12.799999999999955" fill="#c41230"/>
<rect x="203" y="518.8" width="8" height="2.6" fill="#fff"/>
<line x1="63" y1="513.3" x2="63" y2="520.1" stroke="#000" stroke-width="1.2"/>
<line x1="63" y1="522.9" x2="63" y2="644.8" stroke="#000" stroke-width="1.2"/>
<line x1="62.4" y1="643.8" x2="263" y2="643.8" stroke="#000" stroke-width="1.2"/>
<line x1="60" y1="517" x2="63" y2="517" stroke="#000" stroke-width="1"/>
<text x="56.9" y="519.7" font-size="7.6" text-anchor="end" font-weight="normal" font-style="normal" fill="#111">28</text>
<line x1="60" y1="643.8" x2="63" y2="643.8" stroke="#000" stroke-width="1"/>
<text x="56.9" y="646.5" font-size="7.6" text-anchor="end" font-weight="normal" font-style="normal" fill="#111">0</text>
<line x1="60" y1="625.7099999999999" x2="63" y2="625.7099999999999" stroke="#000" stroke-width="1"/>
<text x="56.9" y="628.41" font-size="7.6" text-anchor="end" font-weight="normal" font-style="normal" fill="#111">3</text>
<line x1="60" y1="607.62" x2="63" y2="607.62" stroke="#000" stroke-width="1"/>
<text x="56.9" y="610.32" font-size="7.6" text-anchor="end" font-weight="normal" font-style="normal" fill="#111">6</text>
<line x1="60" y1="589.53" x2="63" y2="589.53" stroke="#000" stroke-width="1"/>
<text x="56.9" y="592.23" font-size="7.6" text-anchor="end" font-weight="normal" font-style="normal" fill="#111">9</text>
<line x1="60" y1="571.4399999999999" x2="63" y2="571.4399999999999" stroke="#000" stroke-width="1"/>
<text x="56.9" y="574.14" font-size="7.6" text-anchor="end" font-weight="normal" font-style="normal" fill="#111">12</text>
<line x1="60" y1="553.3499999999999" x2="63" y2="553.3499999999999" stroke="#000" stroke-width="1"/>
<text x="56.9" y="556.05" font-size="7.6" text-anchor="end" font-weight="normal" font-style="normal" fill="#111">15</text>
<line x1="60" y1="535.26" x2="63" y2="535.26" stroke="#000" stroke-width="1"/>
<text x="56.9" y="537.96" font-size="7.6" text-anchor="end" font-weight="normal" font-style="normal" fill="#111">18</text>
<line x1="60.1" y1="634.755" x2="63" y2="634.755" stroke="#000" stroke-width="1"/>
<line x1="60.1" y1="616.665" x2="63" y2="616.665" stroke="#000" stroke-width="1"/>
<line x1="60.1" y1="598.5749999999999" x2="63" y2="598.5749999999999" stroke="#000" stroke-width="1"/>
<line x1="60.1" y1="580.4849999999999" x2="63" y2="580.4849999999999" stroke="#000" stroke-width="1"/>
<line x1="60.1" y1="562.395" x2="63" y2="562.395" stroke="#000" stroke-width="1"/>
<line x1="60.1" y1="544.305" x2="63" y2="544.305" stroke="#000" stroke-width="1"/>
<line x1="60.1" y1="526.5165" x2="63" y2="526.5165" stroke="#000" stroke-width="1"/>
<line x1="84.5" y1="513" x2="205.5" y2="513" stroke="#5c5c5c" stroke-width="1.25"/>
<line x1="108.8" y1="510.5" x2="205.5" y2="510.5" stroke="#5c5c5c" stroke-width="1.25"/>
<line x1="206.3" y1="506" x2="225" y2="506" stroke="#5c5c5c" stroke-width="1.25"/>
<line x1="206.3" y1="508.3" x2="246.3" y2="508.3" stroke="#5c5c5c" stroke-width="1.25"/>
<line x1="87.5" y1="578.9" x2="133.8" y2="578.9" stroke="#5c5c5c" stroke-width="1.25"/>
<line x1="135" y1="574.5" x2="153.8" y2="574.5" stroke="#5c5c5c" stroke-width="1.25"/>
<line x1="135" y1="576.8" x2="174.5" y2="576.8" stroke="#5c5c5c" stroke-width="1.25"/>
<text x="206.3" y="505.09999999999997" font-size="7.8" text-anchor="middle" font-weight="bold" font-style="normal" fill="#000">*</text>
<text x="135" y="573.5" font-size="7.8" text-anchor="middle" font-weight="bold" font-style="normal" fill="#000">*</text>
<text x="107.7" y="606.8" font-size="7.2" text-anchor="middle" font-weight="normal" font-style="italic" fill="#000" stroke="#000" stroke-width="0.15">#</text>
<text transform="translate(160,625) rotate(-90)" font-size="7.5" text-anchor="start" fill="#111" textLength="23" lengthAdjust="spacingAndGlyphs">+sCR1</text>
<text transform="translate(180.5,620) rotate(-90)" font-size="7.5" text-anchor="start" fill="#111" textLength="32.5" lengthAdjust="spacingAndGlyphs">+C5aR1a</text>
<text transform="translate(230,628.2) rotate(-90)" font-size="7.5" text-anchor="start" fill="#111" textLength="23.5" lengthAdjust="spacingAndGlyphs">+sCR1</text>
<text transform="translate(252,619.5) rotate(-90)" font-size="7.5" text-anchor="start" fill="#111" textLength="32.5" lengthAdjust="spacingAndGlyphs">+C5aR1a</text>
<text x="57.3" y="655.4" font-size="7.6" text-anchor="end" font-weight="normal" font-style="italic" fill="#111" textLength="39.2" lengthAdjust="spacingAndGlyphs">10min ADP</text>
<text x="57.3" y="664.8" font-size="7.6" text-anchor="end" font-weight="normal" font-style="italic" fill="#111" textLength="37.6" lengthAdjust="spacingAndGlyphs">30min C5a</text>
<line x1="83.2" y1="653.4000000000001" x2="86.8" y2="653.4000000000001" stroke="#2a2a2a" stroke-width="0.85"/>
<line x1="83.2" y1="662.8000000000001" x2="86.8" y2="662.8000000000001" stroke="#2a2a2a" stroke-width="0.85"/>
<line x1="105.4" y1="653.2" x2="109.6" y2="653.2" stroke="#2a2a2a" stroke-width="0.78"/>
<line x1="107.5" y1="651.1" x2="107.5" y2="655.3000000000001" stroke="#2a2a2a" stroke-width="0.78"/>
<line x1="105.7" y1="662.8000000000001" x2="109.3" y2="662.8000000000001" stroke="#2a2a2a" stroke-width="0.85"/>
<line x1="133.2" y1="653.4000000000001" x2="136.8" y2="653.4000000000001" stroke="#2a2a2a" stroke-width="0.85"/>
<line x1="132.9" y1="662.6" x2="137.1" y2="662.6" stroke="#2a2a2a" stroke-width="0.78"/>
<line x1="135" y1="660.5" x2="135" y2="664.7" stroke="#2a2a2a" stroke-width="0.78"/>
<line x1="155.2" y1="653.4000000000001" x2="158.8" y2="653.4000000000001" stroke="#2a2a2a" stroke-width="0.85"/>
<line x1="154.9" y1="662.6" x2="159.1" y2="662.6" stroke="#2a2a2a" stroke-width="0.78"/>
<line x1="157" y1="660.5" x2="157" y2="664.7" stroke="#2a2a2a" stroke-width="0.78"/>
<line x1="176.2" y1="653.4000000000001" x2="179.8" y2="653.4000000000001" stroke="#2a2a2a" stroke-width="0.85"/>
<line x1="175.9" y1="662.6" x2="180.1" y2="662.6" stroke="#2a2a2a" stroke-width="0.78"/>
<line x1="178" y1="660.5" x2="178" y2="664.7" stroke="#2a2a2a" stroke-width="0.78"/>
<line x1="203.70000000000002" y1="653.2" x2="207.9" y2="653.2" stroke="#2a2a2a" stroke-width="0.78"/>
<line x1="205.8" y1="651.1" x2="205.8" y2="655.3000000000001" stroke="#2a2a2a" stroke-width="0.78"/>
<line x1="203.70000000000002" y1="662.6" x2="207.9" y2="662.6" stroke="#2a2a2a" stroke-width="0.78"/>
<line x1="205.8" y1="660.5" x2="205.8" y2="664.7" stroke="#2a2a2a" stroke-width="0.78"/>
<line x1="225.4" y1="653.2" x2="229.6" y2="653.2" stroke="#2a2a2a" stroke-width="0.78"/>
<line x1="227.5" y1="651.1" x2="227.5" y2="655.3000000000001" stroke="#2a2a2a" stroke-width="0.78"/>
<line x1="225.4" y1="662.6" x2="229.6" y2="662.6" stroke="#2a2a2a" stroke-width="0.78"/>
<line x1="227.5" y1="660.5" x2="227.5" y2="664.7" stroke="#2a2a2a" stroke-width="0.78"/>
<line x1="247.20000000000002" y1="653.2" x2="251.4" y2="653.2" stroke="#2a2a2a" stroke-width="0.78"/>
<line x1="249.3" y1="651.1" x2="249.3" y2="655.3000000000001" stroke="#2a2a2a" stroke-width="0.78"/>
<line x1="247.20000000000002" y1="662.6" x2="251.4" y2="662.6" stroke="#2a2a2a" stroke-width="0.78"/>
<line x1="249.3" y1="660.5" x2="249.3" y2="664.7" stroke="#2a2a2a" stroke-width="0.78"/>
<text transform="translate(42,624) rotate(-90)" font-size="7.5" text-anchor="start" fill="#111" textLength="91" lengthAdjust="spacingAndGlyphs" stroke="#111" stroke-width="0.22">Platelet aggregates (pixel<tspan dy="-2.6" font-size="5.2">2</tspan><tspan dy="2.6"> × 10</tspan><tspan dy="-2.6" font-size="5.2">3</tspan><tspan dy="2.6">)</tspan></text>
<text x="343.7" y="466.8" font-size="8.0" text-anchor="start" font-weight="normal" font-style="normal" fill="#111" textLength="37.5" lengthAdjust="spacingAndGlyphs">± 10′ ADP</text>
<text x="389.5" y="466.8" font-size="8.0" text-anchor="start" font-weight="normal" font-style="normal" fill="#111" textLength="36" lengthAdjust="spacingAndGlyphs">± 30′ C5a</text>
<text x="440.4" y="466.8" font-size="8.0" text-anchor="start" font-weight="normal" font-style="normal" fill="#111" textLength="45.5" lengthAdjust="spacingAndGlyphs">3′ blood flow</text>
<line x1="344.5" y1="479.3" x2="382.6" y2="479.3" stroke="#2a2a2a" stroke-width="1.3"/>
<g transform="translate(345.7,470.25) scale(0.9075,0.9444)"><path d="M 0.5,6.8 C 0,5.6 1.5,5 3,4.9 C 6,4.6 9,4.5 11.7,4.2 C 14.2,3.9 14.3,0.55 19.5,0.35 C 24.7,0.15 25,3.6 30.3,4.2 C 33,4.5 35,4.6 36.5,4.9 C 38.5,5.3 40,5.8 39.6,7.2 C 39.3,8.3 37,8.4 20,8.4 C 3,8.4 1,8.2 0.5,6.8 Z" fill="#f6f9fd" stroke="#1d5c9a" stroke-width="1.05" stroke-linejoin="round"/><path d="M 1.5,8.3 L 38.5,8.3" stroke="#164a80" stroke-width="1.1"/><ellipse cx="20" cy="5.0" rx="3.9" ry="2.1" fill="#8db2da" stroke="#1d5c9a" stroke-width="0.9"/></g>
<line x1="385.8" y1="479.3" x2="424.5" y2="479.3" stroke="#2a2a2a" stroke-width="1.3"/>
<g transform="translate(387,470.25) scale(0.9200,0.9444)"><path d="M 0.5,6.8 C 0,5.6 1.5,5 3,4.9 C 6,4.6 9,4.5 11.7,4.2 C 14.2,3.9 14.3,0.55 19.5,0.35 C 24.7,0.15 25,3.6 30.3,4.2 C 33,4.5 35,4.6 36.5,4.9 C 38.5,5.3 40,5.8 39.6,7.2 C 39.3,8.3 37,8.4 20,8.4 C 3,8.4 1,8.2 0.5,6.8 Z" fill="#f6f9fd" stroke="#1d5c9a" stroke-width="1.05" stroke-linejoin="round"/><path d="M 1.5,8.3 L 38.5,8.3" stroke="#164a80" stroke-width="1.1"/><ellipse cx="20" cy="5.0" rx="3.9" ry="2.1" fill="#8db2da" stroke="#1d5c9a" stroke-width="0.9"/></g>
<line x1="426" y1="479.3" x2="499.7" y2="479.3" stroke="#2a2a2a" stroke-width="1.3"/>
<g transform="translate(461.5083333333333,470.25) scale(0.9323,0.9444)"><path d="M 0.5,6.8 C 0,5.6 1.5,5 3,4.9 C 6,4.6 9,4.5 11.7,4.2 C 14.2,3.9 14.3,0.55 19.5,0.35 C 24.7,0.15 25,3.6 30.3,4.2 C 33,4.5 35,4.6 36.5,4.9 C 38.5,5.3 40,5.8 39.6,7.2 C 39.3,8.3 37,8.4 20,8.4 C 3,8.4 1,8.2 0.5,6.8 Z" fill="#f6f9fd" stroke="#1d5c9a" stroke-width="1.05" stroke-linejoin="round"/><path d="M 1.5,8.3 L 38.5,8.3" stroke="#164a80" stroke-width="1.1"/><ellipse cx="20" cy="5.0" rx="3.9" ry="2.1" fill="#8db2da" stroke="#1d5c9a" stroke-width="0.9"/></g>
<g transform="translate(427.2,470.25) scale(0.9323,0.9444)"><path d="M 0.5,6.8 C 0,5.6 1.5,5 3,4.9 C 6,4.6 9,4.5 11.7,4.2 C 14.2,3.9 14.3,0.55 19.5,0.35 C 24.7,0.15 25,3.6 30.3,4.2 C 33,4.5 35,4.6 36.5,4.9 C 38.5,5.3 40,5.8 39.6,7.2 C 39.3,8.3 37,8.4 20,8.4 C 3,8.4 1,8.2 0.5,6.8 Z" fill="#f6f9fd" stroke="#1d5c9a" stroke-width="1.05" stroke-linejoin="round"/><path d="M 1.5,8.3 L 38.5,8.3" stroke="#164a80" stroke-width="1.1"/><ellipse cx="20" cy="5.0" rx="3.9" ry="2.1" fill="#8db2da" stroke="#1d5c9a" stroke-width="0.9"/></g>
<text x="422.4" y="490.3" font-size="8.7" text-anchor="start" font-weight="bold" font-style="normal" fill="#c8102e" textLength="76.3" lengthAdjust="spacingAndGlyphs" stroke="#c8102e" stroke-width="0.25">Platelet aggregates</text>
<line x1="505.5" y1="482.3" x2="505.5" y2="490.8" stroke="#c8102e" stroke-width="1.3"/>
<path d="M 505.5,480.1 L 502.6,484.6 L 508.4,484.6 Z" fill="#c8102e"/>
<line x1="388.40000000000003" y1="633.4" x2="388.40000000000003" y2="635.37" stroke="#262626" stroke-width="1.05"/>
<line x1="385.40000000000003" y1="633.4" x2="391.40000000000003" y2="633.4" stroke="#262626" stroke-width="1.05"/>
<rect x="381.1" y="635.37" width="14.6" height="8.330000000000041" fill="#c41230"/>
<line x1="412.1" y1="609.9" x2="412.1" y2="622.4585000000001" stroke="#262626" stroke-width="1.05"/>
<line x1="409.1" y1="609.9" x2="415.1" y2="609.9" stroke="#262626" stroke-width="1.05"/>
<rect x="404.8" y="622.4585000000001" width="14.6" height="21.241499999999974" fill="#c41230"/>
<line x1="436.1" y1="593.8" x2="436.1" y2="614.9615" stroke="#262626" stroke-width="1.05"/>
<line x1="433.1" y1="593.8" x2="439.1" y2="593.8" stroke="#262626" stroke-width="1.05"/>
<rect x="428.8" y="614.9615" width="14.6" height="28.738500000000045" fill="#c41230"/>
<line x1="460.1" y1="621.2" x2="460.1" y2="629.3724000000001" stroke="#262626" stroke-width="1.05"/>
<line x1="457.1" y1="621.2" x2="463.1" y2="621.2" stroke="#262626" stroke-width="1.05"/>
<rect x="452.8" y="629.3724000000001" width="14.6" height="14.327599999999961" fill="#c41230"/>
<line x1="371.4" y1="515" x2="371.4" y2="644.3" stroke="#000" stroke-width="1.15"/>
<line x1="370.8" y1="643.7" x2="479" y2="643.7" stroke="#000" stroke-width="1.2"/>
<line x1="368.3" y1="643.7" x2="371.4" y2="643.7" stroke="#000" stroke-width="1"/>
<text x="366" y="646.4000000000001" font-size="7.6" text-anchor="end" font-weight="normal" font-style="normal" fill="#111">0</text>
<line x1="368.3" y1="618.71" x2="371.4" y2="618.71" stroke="#000" stroke-width="1"/>
<text x="366" y="621.4100000000001" font-size="7.6" text-anchor="end" font-weight="normal" font-style="normal" fill="#111">0.3</text>
<line x1="368.3" y1="593.72" x2="371.4" y2="593.72" stroke="#000" stroke-width="1"/>
<text x="366" y="596.4200000000001" font-size="7.6" text-anchor="end" font-weight="normal" font-style="normal" fill="#111">0.6</text>
<line x1="368.3" y1="568.73" x2="371.4" y2="568.73" stroke="#000" stroke-width="1"/>
<text x="366" y="571.4300000000001" font-size="7.6" text-anchor="end" font-weight="normal" font-style="normal" fill="#111">0.9</text>
<line x1="368.3" y1="543.74" x2="371.4" y2="543.74" stroke="#000" stroke-width="1"/>
<text x="366" y="546.44" font-size="7.6" text-anchor="end" font-weight="normal" font-style="normal" fill="#111">1.2</text>
<line x1="368.3" y1="518.75" x2="371.4" y2="518.75" stroke="#000" stroke-width="1"/>
<text x="366" y="521.45" font-size="7.6" text-anchor="end" font-weight="normal" font-style="normal" fill="#111">1.5</text>
<text x="365.4" y="655.7" font-size="7.6" text-anchor="end" font-weight="normal" font-style="italic" fill="#111" textLength="39.2" lengthAdjust="spacingAndGlyphs">10min ADP</text>
<text x="365.4" y="665.1" font-size="7.6" text-anchor="end" font-weight="normal" font-style="italic" fill="#111" textLength="37.6" lengthAdjust="spacingAndGlyphs">30min C5a</text>
<line x1="386.7" y1="653.4000000000001" x2="390.3" y2="653.4000000000001" stroke="#2a2a2a" stroke-width="0.85"/>
<line x1="386.7" y1="663.0" x2="390.3" y2="663.0" stroke="#2a2a2a" stroke-width="0.85"/>
<line x1="410.09999999999997" y1="653.2" x2="414.3" y2="653.2" stroke="#2a2a2a" stroke-width="0.78"/>
<line x1="412.2" y1="651.1" x2="412.2" y2="655.3000000000001" stroke="#2a2a2a" stroke-width="0.78"/>
<line x1="410.4" y1="663.0" x2="414.0" y2="663.0" stroke="#2a2a2a" stroke-width="0.85"/>
<line x1="434.4" y1="653.4000000000001" x2="438.0" y2="653.4000000000001" stroke="#2a2a2a" stroke-width="0.85"/>
<line x1="434.09999999999997" y1="662.8" x2="438.3" y2="662.8" stroke="#2a2a2a" stroke-width="0.78"/>
<line x1="436.2" y1="660.6999999999999" x2="436.2" y2="664.9" stroke="#2a2a2a" stroke-width="0.78"/>
<line x1="457.79999999999995" y1="653.2" x2="462.0" y2="653.2" stroke="#2a2a2a" stroke-width="0.78"/>
<line x1="459.9" y1="651.1" x2="459.9" y2="655.3000000000001" stroke="#2a2a2a" stroke-width="0.78"/>
<line x1="457.79999999999995" y1="662.8" x2="462.0" y2="662.8" stroke="#2a2a2a" stroke-width="0.78"/>
<line x1="459.9" y1="660.6999999999999" x2="459.9" y2="664.9" stroke="#2a2a2a" stroke-width="0.78"/>
<text transform="translate(349,624.5) rotate(-90)" font-size="7.5" text-anchor="start" fill="#111" textLength="91" lengthAdjust="spacingAndGlyphs" stroke="#111" stroke-width="0.22">Platelet aggregates (pixel<tspan dy="-2.6" font-size="5.2">2</tspan><tspan dy="2.6"> × 10</tspan><tspan dy="-2.6" font-size="5.2">3</tspan><tspan dy="2.6">)</tspan></text>
<defs><filter id="bl" x="-20%" y="-20%" width="140%" height="140%"><feGaussianBlur stdDeviation="0.6"/></filter><filter id="hz" x="-50%" y="-50%" width="200%" height="200%"><feGaussianBlur stdDeviation="2.5"/></filter><clipPath id="c1"><rect x="355" y="207.5" width="107" height="107"/></clipPath><clipPath id="c2"><rect x="355" y="317" width="107" height="107"/></clipPath></defs>
<rect x="355" y="207.5" width="107" height="107" fill="#02020f"/>
<g clip-path="url(#c1)"><g filter="url(#hz)">
</g></g>
<g clip-path="url(#c1)" filter="url(#bl)">
<ellipse cx="355.5" cy="208.1" rx="2.6" ry="3.0" transform="rotate(47 355.5 208.1)" fill="rgb(4,4,54)"/>
<ellipse cx="369.5" cy="208.1" rx="3.4" ry="3.1" transform="rotate(94 369.5 208.1)" fill="rgb(8,8,95)"/>
<ellipse cx="384.6" cy="206.6" rx="3.6" ry="2.7" transform="rotate(129 384.6 206.6)" fill="rgb(9,9,109)"/>
<ellipse cx="392.4" cy="209.4" rx="3.6" ry="2.6" transform="rotate(168 392.4 209.4)" fill="rgb(9,9,108)"/>
<ellipse cx="397.0" cy="205.9" rx="3.8" ry="2.6" transform="rotate(113 397.0 205.9)" fill="rgb(5,5,61)"/>
<ellipse cx="406.1" cy="207.0" rx="3.3" ry="2.8" transform="rotate(163 406.1 207.0)" fill="rgb(8,8,90)"/>
<ellipse cx="430.0" cy="209.3" rx="3.5" ry="2.4" transform="rotate(150 430.0 209.3)" fill="rgb(6,6,77)"/>
<ellipse cx="449.5" cy="206.0" rx="3.5" ry="3.1" transform="rotate(8 449.5 206.0)" fill="rgb(7,7,84)"/>
<ellipse cx="455.2" cy="208.5" rx="3.7" ry="3.2" transform="rotate(91 455.2 208.5)" fill="rgb(10,10,114)"/>
<ellipse cx="463.7" cy="205.6" rx="2.6" ry="2.4" transform="rotate(73 463.7 205.6)" fill="rgb(7,7,84)"/>
<ellipse cx="358.1" cy="213.9" rx="3.4" ry="2.8" transform="rotate(101 358.1 213.9)" fill="rgb(7,7,84)"/>
<ellipse cx="367.9" cy="214.1" rx="3.5" ry="2.4" transform="rotate(54 367.9 214.1)" fill="rgb(10,10,113)"/>
<ellipse cx="373.3" cy="214.3" rx="3.1" ry="2.8" transform="rotate(4 373.3 214.3)" fill="rgb(7,7,85)"/>
<ellipse cx="381.1" cy="212.1" rx="3.2" ry="2.9" transform="rotate(63 381.1 212.1)" fill="rgb(8,8,94)"/>
<ellipse cx="388.9" cy="212.0" rx="3.4" ry="3.2" transform="rotate(45 388.9 212.0)" fill="rgb(6,6,75)"/>
<ellipse cx="395.6" cy="213.3" rx="3.0" ry="2.6" transform="rotate(107 395.6 213.3)" fill="rgb(5,5,61)"/>
<ellipse cx="401.9" cy="215.3" rx="3.3" ry="2.9" transform="rotate(56 401.9 215.3)" fill="rgb(4,4,54)"/>
<ellipse cx="411.1" cy="212.9" rx="3.1" ry="2.9" transform="rotate(18 411.1 212.9)" fill="rgb(5,5,61)"/>
<ellipse cx="416.3" cy="215.5" rx="3.6" ry="2.4" transform="rotate(61 416.3 215.5)" fill="rgb(7,7,85)"/>
<ellipse cx="426.0" cy="213.9" rx="2.7" ry="2.7" transform="rotate(34 426.0 213.9)" fill="rgb(8,8,95)"/>
<ellipse cx="433.1" cy="212.7" rx="3.6" ry="2.8" transform="rotate(145 433.1 212.7)" fill="rgb(5,5,60)"/>
<ellipse cx="445.2" cy="213.4" rx="3.1" ry="2.6" transform="rotate(166 445.2 213.4)" fill="rgb(4,4,48)"/>
<ellipse cx="476.9" cy="214.8" rx="2.9" ry="2.5" transform="rotate(41 476.9 214.8)" fill="rgb(3,3,41)"/>
<ellipse cx="353.0" cy="222.4" rx="3.7" ry="3.1" transform="rotate(162 353.0 222.4)" fill="rgb(7,7,82)"/>
<ellipse cx="360.2" cy="221.7" rx="3.0" ry="2.9" transform="rotate(94 360.2 221.7)" fill="rgb(6,6,69)"/>
<ellipse cx="371.5" cy="221.1" rx="2.9" ry="3.1" transform="rotate(86 371.5 221.1)" fill="rgb(8,8,99)"/>
<ellipse cx="376.2" cy="219.3" rx="3.6" ry="2.4" transform="rotate(143 376.2 219.3)" fill="rgb(9,9,111)"/>
<ellipse cx="385.5" cy="222.1" rx="3.4" ry="3.1" transform="rotate(9 385.5 222.1)" fill="rgb(5,5,60)"/>
<ellipse cx="390.5" cy="220.8" rx="3.2" ry="3.0" transform="rotate(0 390.5 220.8)" fill="rgb(3,3,42)"/>
<ellipse cx="397.2" cy="219.0" rx="3.8" ry="3.1" transform="rotate(16 397.2 219.0)" fill="rgb(6,6,77)"/>
<ellipse cx="405.3" cy="219.8" rx="3.4" ry="2.8" transform="rotate(65 405.3 219.8)" fill="rgb(4,4,51)"/>
<ellipse cx="412.6" cy="219.0" rx="3.5" ry="2.6" transform="rotate(14 412.6 219.0)" fill="rgb(4,4,50)"/>
<ellipse cx="435.0" cy="220.1" rx="3.4" ry="2.6" transform="rotate(125 435.0 220.1)" fill="rgb(6,6,69)"/>
<ellipse cx="448.0" cy="220.3" rx="3.7" ry="3.1" transform="rotate(67 448.0 220.3)" fill="rgb(9,9,105)"/>
<ellipse cx="458.5" cy="219.6" rx="2.7" ry="3.0" transform="rotate(119 458.5 219.6)" fill="rgb(9,9,105)"/>
<ellipse cx="472.1" cy="218.9" rx="2.6" ry="2.3" transform="rotate(139 472.1 218.9)" fill="rgb(3,3,40)"/>
<ellipse cx="364.3" cy="228.7" rx="3.6" ry="3.2" transform="rotate(104 364.3 228.7)" fill="rgb(9,9,101)"/>
<ellipse cx="371.2" cy="228.4" rx="3.5" ry="2.3" transform="rotate(135 371.2 228.4)" fill="rgb(10,10,112)"/>
<ellipse cx="378.6" cy="226.4" rx="3.6" ry="2.4" transform="rotate(32 378.6 226.4)" fill="rgb(5,5,58)"/>
<ellipse cx="388.4" cy="228.3" rx="3.0" ry="2.6" transform="rotate(63 388.4 228.3)" fill="rgb(6,6,72)"/>
<ellipse cx="402.1" cy="228.3" rx="3.4" ry="3.0" transform="rotate(121 402.1 228.3)" fill="rgb(6,6,77)"/>
<ellipse cx="426.2" cy="227.3" rx="3.5" ry="2.4" transform="rotate(48 426.2 227.3)" fill="rgb(4,4,49)"/>
<ellipse cx="432.0" cy="226.4" rx="3.4" ry="3.2" transform="rotate(53 432.0 226.4)" fill="rgb(7,7,87)"/>
<ellipse cx="438.6" cy="228.8" rx="2.9" ry="2.4" transform="rotate(4 438.6 228.8)" fill="rgb(6,6,71)"/>
<ellipse cx="445.7" cy="225.8" rx="3.0" ry="3.0" transform="rotate(26 445.7 225.8)" fill="rgb(10,10,112)"/>
<ellipse cx="453.5" cy="227.6" rx="3.6" ry="3.0" transform="rotate(100 453.5 227.6)" fill="rgb(6,6,74)"/>
<ellipse cx="461.8" cy="228.8" rx="3.5" ry="3.2" transform="rotate(84 461.8 228.8)" fill="rgb(4,4,54)"/>
<ellipse cx="467.0" cy="228.2" rx="3.8" ry="3.1" transform="rotate(44 467.0 228.2)" fill="rgb(4,4,51)"/>
<ellipse cx="484.3" cy="229.0" rx="3.6" ry="2.5" transform="rotate(76 484.3 229.0)" fill="rgb(8,8,93)"/>
<ellipse cx="361.4" cy="233.1" rx="3.4" ry="2.2" transform="rotate(60 361.4 233.1)" fill="rgb(6,6,72)"/>
<ellipse cx="369.5" cy="232.5" rx="3.7" ry="2.6" transform="rotate(98 369.5 232.5)" fill="rgb(4,4,47)"/>
<ellipse cx="375.9" cy="234.5" rx="3.7" ry="3.1" transform="rotate(17 375.9 234.5)" fill="rgb(10,10,114)"/>
<ellipse cx="383.6" cy="235.0" rx="3.0" ry="2.9" transform="rotate(118 383.6 235.0)" fill="rgb(9,9,104)"/>
<ellipse cx="399.6" cy="233.9" rx="3.2" ry="2.6" transform="rotate(129 399.6 233.9)" fill="rgb(8,8,91)"/>
<ellipse cx="406.4" cy="232.4" rx="3.4" ry="2.4" transform="rotate(160 406.4 232.4)" fill="rgb(7,7,87)"/>
<ellipse cx="411.7" cy="235.7" rx="3.0" ry="2.9" transform="rotate(108 411.7 235.7)" fill="rgb(7,7,79)"/>
<ellipse cx="421.3" cy="233.6" rx="2.8" ry="2.3" transform="rotate(129 421.3 233.6)" fill="rgb(8,8,92)"/>
<ellipse cx="428.2" cy="234.8" rx="2.9" ry="2.6" transform="rotate(157 428.2 234.8)" fill="rgb(3,3,38)"/>
<ellipse cx="442.0" cy="233.0" rx="3.2" ry="3.0" transform="rotate(64 442.0 233.0)" fill="rgb(9,9,100)"/>
<ellipse cx="448.2" cy="232.8" rx="2.7" ry="3.0" transform="rotate(131 448.2 232.8)" fill="rgb(4,4,50)"/>
<ellipse cx="465.9" cy="234.9" rx="2.8" ry="2.6" transform="rotate(35 465.9 234.9)" fill="rgb(6,6,77)"/>
<ellipse cx="472.1" cy="232.5" rx="3.5" ry="2.2" transform="rotate(145 472.1 232.5)" fill="rgb(9,9,105)"/>
<ellipse cx="481.1" cy="233.3" rx="3.3" ry="2.8" transform="rotate(176 481.1 233.3)" fill="rgb(8,8,90)"/>
<ellipse cx="357.8" cy="241.9" rx="3.3" ry="2.9" transform="rotate(0 357.8 241.9)" fill="rgb(9,9,101)"/>
<ellipse cx="366.7" cy="240.3" rx="3.2" ry="2.4" transform="rotate(95 366.7 240.3)" fill="rgb(3,3,41)"/>
<ellipse cx="373.3" cy="241.0" rx="3.3" ry="3.2" transform="rotate(161 373.3 241.0)" fill="rgb(4,4,49)"/>
<ellipse cx="381.8" cy="240.9" rx="3.0" ry="2.4" transform="rotate(14 381.8 240.9)" fill="rgb(7,7,82)"/>
<ellipse cx="418.9" cy="241.9" rx="3.5" ry="2.7" transform="rotate(20 418.9 241.9)" fill="rgb(3,3,38)"/>
<ellipse cx="422.5" cy="239.0" rx="3.2" ry="2.9" transform="rotate(97 422.5 239.0)" fill="rgb(6,6,67)"/>
<ellipse cx="432.3" cy="239.5" rx="3.5" ry="2.6" transform="rotate(33 432.3 239.5)" fill="rgb(9,9,101)"/>
<ellipse cx="439.9" cy="239.8" rx="3.2" ry="2.8" transform="rotate(40 439.9 239.8)" fill="rgb(3,3,35)"/>
<ellipse cx="445.0" cy="241.6" rx="3.2" ry="2.4" transform="rotate(38 445.0 241.6)" fill="rgb(4,4,48)"/>
<ellipse cx="453.1" cy="238.9" rx="2.7" ry="2.4" transform="rotate(88 453.1 238.9)" fill="rgb(3,3,41)"/>
<ellipse cx="458.7" cy="240.1" rx="3.4" ry="2.3" transform="rotate(73 458.7 240.1)" fill="rgb(6,6,67)"/>
<ellipse cx="466.1" cy="242.4" rx="2.7" ry="2.7" transform="rotate(30 466.1 242.4)" fill="rgb(7,7,84)"/>
<ellipse cx="474.8" cy="238.7" rx="3.5" ry="2.5" transform="rotate(142 474.8 238.7)" fill="rgb(6,6,72)"/>
<ellipse cx="484.7" cy="239.5" rx="2.9" ry="3.0" transform="rotate(113 484.7 239.5)" fill="rgb(5,5,63)"/>
<ellipse cx="362.7" cy="244.7" rx="2.7" ry="2.4" transform="rotate(7 362.7 244.7)" fill="rgb(3,3,42)"/>
<ellipse cx="370.3" cy="248.7" rx="3.8" ry="2.7" transform="rotate(145 370.3 248.7)" fill="rgb(10,10,112)"/>
<ellipse cx="378.8" cy="244.9" rx="3.3" ry="3.1" transform="rotate(16 378.8 244.9)" fill="rgb(5,5,61)"/>
<ellipse cx="385.7" cy="245.2" rx="3.0" ry="2.9" transform="rotate(167 385.7 245.2)" fill="rgb(4,4,52)"/>
<ellipse cx="399.0" cy="248.8" rx="3.1" ry="2.4" transform="rotate(140 399.0 248.8)" fill="rgb(6,6,74)"/>
<ellipse cx="413.9" cy="247.8" rx="3.2" ry="2.4" transform="rotate(128 413.9 247.8)" fill="rgb(3,3,37)"/>
<ellipse cx="449.2" cy="246.3" rx="3.1" ry="3.2" transform="rotate(19 449.2 246.3)" fill="rgb(7,7,79)"/>
<ellipse cx="455.5" cy="245.1" rx="2.9" ry="2.2" transform="rotate(27 455.5 245.1)" fill="rgb(7,7,85)"/>
<ellipse cx="464.9" cy="244.8" rx="3.8" ry="2.4" transform="rotate(101 464.9 244.8)" fill="rgb(6,6,68)"/>
<ellipse cx="479.3" cy="245.5" rx="2.7" ry="3.0" transform="rotate(20 479.3 245.5)" fill="rgb(3,3,37)"/>
<ellipse cx="364.1" cy="253.3" rx="3.6" ry="2.8" transform="rotate(116 364.1 253.3)" fill="rgb(9,9,100)"/>
<ellipse cx="374.9" cy="252.8" rx="3.1" ry="2.3" transform="rotate(150 374.9 252.8)" fill="rgb(7,7,85)"/>
<ellipse cx="381.9" cy="252.2" rx="3.2" ry="2.9" transform="rotate(14 381.9 252.2)" fill="rgb(5,5,65)"/>
<ellipse cx="387.8" cy="251.6" rx="3.5" ry="2.6" transform="rotate(117 387.8 251.6)" fill="rgb(7,7,85)"/>
<ellipse cx="401.7" cy="253.2" rx="2.9" ry="2.4" transform="rotate(168 401.7 253.2)" fill="rgb(8,8,91)"/>
<ellipse cx="418.9" cy="253.6" rx="3.7" ry="3.1" transform="rotate(171 418.9 253.6)" fill="rgb(6,6,68)"/>
<ellipse cx="451.5" cy="254.6" rx="3.1" ry="2.5" transform="rotate(134 451.5 254.6)" fill="rgb(8,8,91)"/>
<ellipse cx="459.9" cy="251.7" rx="3.1" ry="2.3" transform="rotate(28 459.9 251.7)" fill="rgb(8,8,93)"/>
<ellipse cx="477.1" cy="252.9" rx="3.0" ry="2.7" transform="rotate(95 477.1 252.9)" fill="rgb(6,6,76)"/>
<ellipse cx="482.1" cy="255.0" rx="3.2" ry="3.1" transform="rotate(145 482.1 255.0)" fill="rgb(5,5,57)"/>
<ellipse cx="353.9" cy="261.4" rx="2.8" ry="2.7" transform="rotate(96 353.9 261.4)" fill="rgb(4,4,51)"/>
<ellipse cx="360.3" cy="258.8" rx="3.2" ry="3.2" transform="rotate(141 360.3 258.8)" fill="rgb(10,10,118)"/>
<ellipse cx="367.6" cy="258.7" rx="3.1" ry="2.5" transform="rotate(9 367.6 258.7)" fill="rgb(7,7,82)"/>
<ellipse cx="375.1" cy="259.2" rx="3.6" ry="2.6" transform="rotate(47 375.1 259.2)" fill="rgb(3,3,41)"/>
<ellipse cx="383.9" cy="260.6" rx="3.7" ry="3.0" transform="rotate(45 383.9 260.6)" fill="rgb(4,4,47)"/>
<ellipse cx="392.6" cy="261.3" rx="3.6" ry="2.8" transform="rotate(50 392.6 261.3)" fill="rgb(4,4,49)"/>
<ellipse cx="420.3" cy="260.1" rx="2.8" ry="2.9" transform="rotate(179 420.3 260.1)" fill="rgb(6,6,71)"/>
<ellipse cx="459.1" cy="260.6" rx="3.3" ry="2.7" transform="rotate(88 459.1 260.6)" fill="rgb(4,4,55)"/>
<ellipse cx="465.4" cy="261.9" rx="3.4" ry="2.6" transform="rotate(93 465.4 261.9)" fill="rgb(9,9,101)"/>
<ellipse cx="473.8" cy="260.7" rx="3.7" ry="2.4" transform="rotate(69 473.8 260.7)" fill="rgb(8,8,96)"/>
<ellipse cx="360.6" cy="265.8" rx="2.9" ry="2.3" transform="rotate(45 360.6 265.8)" fill="rgb(10,10,118)"/>
<ellipse cx="364.1" cy="265.4" rx="2.7" ry="2.7" transform="rotate(134 364.1 265.4)" fill="rgb(9,9,106)"/>
<ellipse cx="373.8" cy="268.0" rx="2.9" ry="3.2" transform="rotate(12 373.8 268.0)" fill="rgb(5,5,59)"/>
<ellipse cx="380.5" cy="265.6" rx="2.7" ry="2.4" transform="rotate(172 380.5 265.6)" fill="rgb(4,4,48)"/>
<ellipse cx="395.9" cy="267.3" rx="2.7" ry="3.0" transform="rotate(32 395.9 267.3)" fill="rgb(4,4,51)"/>
<ellipse cx="403.9" cy="268.3" rx="3.8" ry="2.7" transform="rotate(69 403.9 268.3)" fill="rgb(3,3,44)"/>
<ellipse cx="409.3" cy="268.8" rx="2.8" ry="2.3" transform="rotate(23 409.3 268.8)" fill="rgb(5,5,62)"/>
<ellipse cx="418.9" cy="264.8" rx="3.7" ry="3.2" transform="rotate(176 418.9 264.8)" fill="rgb(4,4,51)"/>
<ellipse cx="423.7" cy="268.6" rx="3.4" ry="2.5" transform="rotate(4 423.7 268.6)" fill="rgb(5,5,58)"/>
<ellipse cx="438.8" cy="266.8" rx="3.2" ry="3.0" transform="rotate(36 438.8 266.8)" fill="rgb(6,6,76)"/>
<ellipse cx="448.2" cy="268.2" rx="3.8" ry="3.0" transform="rotate(30 448.2 268.2)" fill="rgb(4,4,54)"/>
<ellipse cx="460.5" cy="268.3" rx="2.6" ry="3.1" transform="rotate(143 460.5 268.3)" fill="rgb(9,9,110)"/>
<ellipse cx="473.7" cy="266.8" rx="2.8" ry="2.8" transform="rotate(58 473.7 266.8)" fill="rgb(6,6,73)"/>
<ellipse cx="482.2" cy="265.8" rx="3.3" ry="3.2" transform="rotate(169 482.2 265.8)" fill="rgb(8,8,99)"/>
<ellipse cx="361.3" cy="271.5" rx="3.5" ry="2.5" transform="rotate(116 361.3 271.5)" fill="rgb(5,5,61)"/>
<ellipse cx="371.7" cy="273.0" rx="3.2" ry="3.1" transform="rotate(178 371.7 273.0)" fill="rgb(7,7,81)"/>
<ellipse cx="376.6" cy="273.7" rx="3.1" ry="3.0" transform="rotate(140 376.6 273.7)" fill="rgb(3,3,42)"/>
<ellipse cx="390.9" cy="271.9" rx="3.7" ry="2.6" transform="rotate(156 390.9 271.9)" fill="rgb(8,8,93)"/>
<ellipse cx="398.2" cy="272.3" rx="3.1" ry="2.6" transform="rotate(117 398.2 272.3)" fill="rgb(9,9,106)"/>
<ellipse cx="406.5" cy="271.6" rx="3.0" ry="2.8" transform="rotate(25 406.5 271.6)" fill="rgb(3,3,43)"/>
<ellipse cx="412.6" cy="272.2" rx="3.2" ry="3.1" transform="rotate(96 412.6 272.2)" fill="rgb(8,8,92)"/>
<ellipse cx="427.7" cy="274.0" rx="3.7" ry="2.6" transform="rotate(86 427.7 274.0)" fill="rgb(9,9,100)"/>
<ellipse cx="443.0" cy="271.4" rx="3.0" ry="2.2" transform="rotate(150 443.0 271.4)" fill="rgb(4,4,48)"/>
<ellipse cx="448.9" cy="272.7" rx="3.1" ry="2.8" transform="rotate(119 448.9 272.7)" fill="rgb(6,6,68)"/>
<ellipse cx="474.0" cy="271.3" rx="3.2" ry="2.6" transform="rotate(161 474.0 271.3)" fill="rgb(8,8,98)"/>
<ellipse cx="478.4" cy="272.8" rx="3.7" ry="2.4" transform="rotate(71 478.4 272.8)" fill="rgb(3,3,42)"/>
<ellipse cx="366.1" cy="280.1" rx="2.9" ry="2.7" transform="rotate(154 366.1 280.1)" fill="rgb(7,7,82)"/>
<ellipse cx="372.3" cy="281.9" rx="3.2" ry="2.4" transform="rotate(54 372.3 281.9)" fill="rgb(9,9,111)"/>
<ellipse cx="378.9" cy="279.9" rx="3.0" ry="3.0" transform="rotate(164 378.9 279.9)" fill="rgb(9,9,108)"/>
<ellipse cx="388.9" cy="278.5" rx="3.1" ry="2.5" transform="rotate(35 388.9 278.5)" fill="rgb(9,9,108)"/>
<ellipse cx="400.8" cy="281.6" rx="2.9" ry="2.4" transform="rotate(7 400.8 281.6)" fill="rgb(7,7,78)"/>
<ellipse cx="415.1" cy="279.3" rx="2.8" ry="2.5" transform="rotate(47 415.1 279.3)" fill="rgb(8,8,92)"/>
<ellipse cx="423.6" cy="278.1" rx="3.1" ry="2.8" transform="rotate(44 423.6 278.1)" fill="rgb(8,8,89)"/>
<ellipse cx="430.4" cy="280.5" rx="2.8" ry="3.0" transform="rotate(71 430.4 280.5)" fill="rgb(6,6,77)"/>
<ellipse cx="439.4" cy="280.3" rx="2.7" ry="3.0" transform="rotate(155 439.4 280.3)" fill="rgb(6,6,73)"/>
<ellipse cx="474.7" cy="280.8" rx="2.7" ry="2.7" transform="rotate(153 474.7 280.8)" fill="rgb(6,6,73)"/>
<ellipse cx="482.9" cy="281.4" rx="3.2" ry="2.8" transform="rotate(148 482.9 281.4)" fill="rgb(4,4,52)"/>
<ellipse cx="353.2" cy="287.5" rx="3.0" ry="3.1" transform="rotate(159 353.2 287.5)" fill="rgb(7,7,81)"/>
<ellipse cx="364.4" cy="287.8" rx="2.9" ry="2.2" transform="rotate(122 364.4 287.8)" fill="rgb(8,8,97)"/>
<ellipse cx="368.9" cy="286.2" rx="2.9" ry="2.9" transform="rotate(101 368.9 286.2)" fill="rgb(6,6,69)"/>
<ellipse cx="375.2" cy="286.6" rx="3.5" ry="2.4" transform="rotate(71 375.2 286.6)" fill="rgb(4,4,54)"/>
<ellipse cx="383.8" cy="286.7" rx="2.7" ry="2.7" transform="rotate(36 383.8 286.7)" fill="rgb(7,7,79)"/>
<ellipse cx="390.0" cy="284.6" rx="3.7" ry="3.1" transform="rotate(93 390.0 284.6)" fill="rgb(6,6,70)"/>
<ellipse cx="396.9" cy="285.4" rx="3.7" ry="2.3" transform="rotate(171 396.9 285.4)" fill="rgb(6,6,77)"/>
<ellipse cx="412.0" cy="286.7" rx="2.8" ry="2.4" transform="rotate(177 412.0 286.7)" fill="rgb(9,9,102)"/>
<ellipse cx="421.7" cy="288.1" rx="3.4" ry="3.0" transform="rotate(41 421.7 288.1)" fill="rgb(6,6,73)"/>
<ellipse cx="433.8" cy="287.1" rx="3.2" ry="2.6" transform="rotate(157 433.8 287.1)" fill="rgb(8,8,94)"/>
<ellipse cx="442.6" cy="287.2" rx="3.6" ry="2.5" transform="rotate(98 442.6 287.2)" fill="rgb(7,7,81)"/>
<ellipse cx="449.4" cy="284.3" rx="3.4" ry="2.4" transform="rotate(136 449.4 284.3)" fill="rgb(6,6,75)"/>
<ellipse cx="463.9" cy="284.3" rx="3.5" ry="3.1" transform="rotate(36 463.9 284.3)" fill="rgb(4,4,48)"/>
<ellipse cx="473.9" cy="287.4" rx="3.5" ry="2.3" transform="rotate(98 473.9 287.4)" fill="rgb(7,7,87)"/>
<ellipse cx="479.6" cy="284.8" rx="3.3" ry="3.1" transform="rotate(25 479.6 284.8)" fill="rgb(3,3,36)"/>
<ellipse cx="356.8" cy="294.2" rx="3.1" ry="3.2" transform="rotate(110 356.8 294.2)" fill="rgb(5,5,58)"/>
<ellipse cx="366.8" cy="290.7" rx="3.4" ry="2.4" transform="rotate(6 366.8 290.7)" fill="rgb(7,7,79)"/>
<ellipse cx="372.5" cy="295.0" rx="3.6" ry="2.6" transform="rotate(145 372.5 295.0)" fill="rgb(6,6,73)"/>
<ellipse cx="381.3" cy="292.1" rx="3.1" ry="3.0" transform="rotate(62 381.3 292.1)" fill="rgb(5,5,56)"/>
<ellipse cx="387.5" cy="291.1" rx="3.3" ry="2.7" transform="rotate(108 387.5 291.1)" fill="rgb(5,5,62)"/>
<ellipse cx="393.1" cy="290.8" rx="2.8" ry="2.8" transform="rotate(48 393.1 290.8)" fill="rgb(9,9,100)"/>
<ellipse cx="402.9" cy="293.6" rx="3.2" ry="2.6" transform="rotate(56 402.9 293.6)" fill="rgb(3,3,43)"/>
<ellipse cx="411.0" cy="292.9" rx="3.7" ry="2.8" transform="rotate(112 411.0 292.9)" fill="rgb(6,6,73)"/>
<ellipse cx="415.4" cy="295.1" rx="3.0" ry="3.2" transform="rotate(22 415.4 295.1)" fill="rgb(6,6,77)"/>
<ellipse cx="431.3" cy="290.8" rx="2.6" ry="2.9" transform="rotate(156 431.3 290.8)" fill="rgb(9,9,106)"/>
<ellipse cx="437.0" cy="293.7" rx="3.2" ry="2.5" transform="rotate(55 437.0 293.7)" fill="rgb(4,4,46)"/>
<ellipse cx="451.5" cy="295.0" rx="2.7" ry="2.9" transform="rotate(96 451.5 295.0)" fill="rgb(8,8,93)"/>
<ellipse cx="460.9" cy="293.5" rx="3.4" ry="2.7" transform="rotate(173 460.9 293.5)" fill="rgb(3,3,36)"/>
<ellipse cx="475.1" cy="293.8" rx="3.1" ry="2.7" transform="rotate(108 475.1 293.8)" fill="rgb(3,3,37)"/>
<ellipse cx="481.9" cy="294.0" rx="3.2" ry="2.5" transform="rotate(64 481.9 294.0)" fill="rgb(7,7,84)"/>
<ellipse cx="356.1" cy="301.5" rx="2.8" ry="2.5" transform="rotate(11 356.1 301.5)" fill="rgb(4,4,55)"/>
<ellipse cx="362.7" cy="300.0" rx="2.8" ry="2.3" transform="rotate(32 362.7 300.0)" fill="rgb(6,6,76)"/>
<ellipse cx="368.5" cy="301.2" rx="3.0" ry="2.6" transform="rotate(7 368.5 301.2)" fill="rgb(8,8,94)"/>
<ellipse cx="378.0" cy="298.9" rx="2.9" ry="2.4" transform="rotate(41 378.0 298.9)" fill="rgb(4,4,53)"/>
<ellipse cx="384.7" cy="300.1" rx="2.7" ry="3.0" transform="rotate(86 384.7 300.1)" fill="rgb(6,6,68)"/>
<ellipse cx="391.5" cy="299.2" rx="3.1" ry="2.8" transform="rotate(129 391.5 299.2)" fill="rgb(10,10,113)"/>
<ellipse cx="407.0" cy="301.6" rx="3.5" ry="3.1" transform="rotate(22 407.0 301.6)" fill="rgb(7,7,86)"/>
<ellipse cx="422.5" cy="299.2" rx="2.9" ry="3.0" transform="rotate(76 422.5 299.2)" fill="rgb(5,5,62)"/>
<ellipse cx="427.7" cy="301.4" rx="2.6" ry="3.1" transform="rotate(57 427.7 301.4)" fill="rgb(5,5,66)"/>
<ellipse cx="437.4" cy="298.5" rx="3.7" ry="2.4" transform="rotate(40 437.4 298.5)" fill="rgb(9,9,108)"/>
<ellipse cx="441.4" cy="301.2" rx="3.0" ry="2.4" transform="rotate(98 441.4 301.2)" fill="rgb(7,7,78)"/>
<ellipse cx="449.5" cy="299.5" rx="3.6" ry="3.1" transform="rotate(136 449.5 299.5)" fill="rgb(8,8,96)"/>
<ellipse cx="455.3" cy="298.4" rx="2.8" ry="3.2" transform="rotate(163 455.3 298.4)" fill="rgb(9,9,103)"/>
<ellipse cx="464.8" cy="297.8" rx="2.7" ry="3.1" transform="rotate(48 464.8 297.8)" fill="rgb(5,5,56)"/>
<ellipse cx="478.3" cy="300.2" rx="3.7" ry="2.6" transform="rotate(62 478.3 300.2)" fill="rgb(7,7,83)"/>
<ellipse cx="359.1" cy="305.0" rx="3.3" ry="2.2" transform="rotate(157 359.1 305.0)" fill="rgb(5,5,63)"/>
<ellipse cx="364.5" cy="305.3" rx="3.0" ry="2.7" transform="rotate(73 364.5 305.3)" fill="rgb(5,5,62)"/>
<ellipse cx="380.3" cy="307.2" rx="2.7" ry="2.4" transform="rotate(153 380.3 307.2)" fill="rgb(6,6,76)"/>
<ellipse cx="394.6" cy="305.4" rx="2.6" ry="2.7" transform="rotate(86 394.6 305.4)" fill="rgb(7,7,78)"/>
<ellipse cx="402.2" cy="305.9" rx="2.8" ry="3.2" transform="rotate(21 402.2 305.9)" fill="rgb(9,9,109)"/>
<ellipse cx="408.3" cy="307.3" rx="2.7" ry="2.7" transform="rotate(151 408.3 307.3)" fill="rgb(9,9,107)"/>
<ellipse cx="418.7" cy="308.2" rx="3.1" ry="2.3" transform="rotate(136 418.7 308.2)" fill="rgb(6,6,73)"/>
<ellipse cx="432.4" cy="307.7" rx="2.7" ry="3.1" transform="rotate(16 432.4 307.7)" fill="rgb(3,3,43)"/>
<ellipse cx="473.3" cy="304.7" rx="3.8" ry="2.4" transform="rotate(106 473.3 304.7)" fill="rgb(3,3,44)"/>
<ellipse cx="484.3" cy="305.8" rx="3.4" ry="2.3" transform="rotate(131 484.3 305.8)" fill="rgb(8,8,93)"/>
<ellipse cx="356.6" cy="311.7" rx="2.8" ry="3.1" transform="rotate(79 356.6 311.7)" fill="rgb(5,5,66)"/>
<ellipse cx="362.4" cy="313.5" rx="3.0" ry="3.0" transform="rotate(140 362.4 313.5)" fill="rgb(5,5,59)"/>
<ellipse cx="383.9" cy="311.4" rx="3.0" ry="2.8" transform="rotate(66 383.9 311.4)" fill="rgb(10,10,114)"/>
<ellipse cx="392.2" cy="312.4" rx="3.3" ry="2.8" transform="rotate(89 392.2 312.4)" fill="rgb(7,7,81)"/>
<ellipse cx="398.8" cy="314.1" rx="3.5" ry="2.5" transform="rotate(153 398.8 314.1)" fill="rgb(3,3,44)"/>
<ellipse cx="406.0" cy="312.4" rx="2.8" ry="2.5" transform="rotate(24 406.0 312.4)" fill="rgb(7,7,84)"/>
<ellipse cx="413.7" cy="310.4" rx="2.8" ry="3.2" transform="rotate(82 413.7 310.4)" fill="rgb(7,7,83)"/>
<ellipse cx="428.8" cy="310.4" rx="3.2" ry="2.2" transform="rotate(142 428.8 310.4)" fill="rgb(5,5,61)"/>
<ellipse cx="434.4" cy="313.2" rx="3.2" ry="3.1" transform="rotate(93 434.4 313.2)" fill="rgb(5,5,62)"/>
<ellipse cx="440.7" cy="312.9" rx="3.2" ry="2.5" transform="rotate(1 440.7 312.9)" fill="rgb(3,3,38)"/>
<ellipse cx="470.6" cy="314.8" rx="2.9" ry="2.4" transform="rotate(155 470.6 314.8)" fill="rgb(8,8,95)"/>
<ellipse cx="479.4" cy="311.1" rx="3.4" ry="2.3" transform="rotate(166 479.4 311.1)" fill="rgb(8,8,97)"/>
<ellipse cx="360.5" cy="320.1" rx="3.8" ry="2.5" transform="rotate(55 360.5 320.1)" fill="rgb(4,4,46)"/>
<ellipse cx="364.5" cy="320.5" rx="3.5" ry="2.6" transform="rotate(158 364.5 320.5)" fill="rgb(8,8,95)"/>
<ellipse cx="374.1" cy="320.7" rx="2.9" ry="2.6" transform="rotate(77 374.1 320.7)" fill="rgb(8,8,90)"/>
<ellipse cx="388.7" cy="318.6" rx="3.5" ry="3.0" transform="rotate(67 388.7 318.6)" fill="rgb(6,6,67)"/>
<ellipse cx="400.3" cy="319.8" rx="2.8" ry="2.8" transform="rotate(85 400.3 319.8)" fill="rgb(10,10,116)"/>
<ellipse cx="431.2" cy="317.9" rx="2.9" ry="3.0" transform="rotate(103 431.2 317.9)" fill="rgb(9,9,100)"/>
<ellipse cx="447.0" cy="318.7" rx="3.1" ry="2.8" transform="rotate(93 447.0 318.7)" fill="rgb(5,5,56)"/>
<ellipse cx="469.6" cy="319.9" rx="3.5" ry="2.7" transform="rotate(67 469.6 319.9)" fill="rgb(7,7,78)"/>
<ellipse cx="484.9" cy="317.5" rx="3.7" ry="2.9" transform="rotate(104 484.9 317.5)" fill="rgb(8,8,97)"/>
<circle cx="368.9" cy="255.0" r="0.9" fill="#2a3cff"/>
<circle cx="429" cy="262.7" r="0.9" fill="#2a3cff"/>
<circle cx="425" cy="228.0" r="0.8" fill="#2a3cff"/>
<circle cx="400" cy="293.7" r="1.0" fill="#2a3cff"/>
<circle cx="364" cy="272.2" r="0.9" fill="#2a3cff"/>
<circle cx="445.6" cy="293.0" r="0.7" fill="#2a3cff"/>
<circle cx="362.5" cy="270.5" r="1.3" fill="#e01818" opacity="0.9"/>
<circle cx="460.8" cy="237.7" r="1.1" fill="#e01818" opacity="0.85"/>
<circle cx="400.6" cy="294.8" r="0.9" fill="#e01818" opacity="0.7"/>
<circle cx="381.5" cy="237.7" r="0.8" fill="#e01818" opacity="0.5"/>
<circle cx="427" cy="233.5" r="0.8" fill="#e01818" opacity="0.5"/>
<circle cx="455" cy="269.5" r="0.7" fill="#e01818" opacity="0.5"/>
</g>
<text x="423.3" y="221.3" font-size="8.3" text-anchor="start" font-weight="normal" font-style="normal" fill="#fff" textLength="30.5" lengthAdjust="spacingAndGlyphs">Resting</text>
<line x1="438.8" y1="304.1" x2="456.8" y2="304.1" stroke="#eee" stroke-width="1.5"/>
<rect x="355" y="317" width="107" height="107" fill="#02020f"/>
<g clip-path="url(#c2)"><g filter="url(#hz)">
<circle cx="383" cy="351" r="6" fill="#b01020" opacity="0.35"/>
<circle cx="431" cy="375" r="8" fill="#b01020" opacity="0.35"/>
<circle cx="423" cy="385" r="6" fill="#b01020" opacity="0.3"/>
<circle cx="439" cy="342" r="5" fill="#b01020" opacity="0.3"/>
<circle cx="369" cy="403" r="6" fill="#b01020" opacity="0.25"/>
<circle cx="405" cy="387" r="7" fill="#b01020" opacity="0.2"/>
<circle cx="451" cy="401" r="5" fill="#b01020" opacity="0.3"/>
<circle cx="363" cy="327" r="6" fill="#b01020" opacity="0.2"/>
<circle cx="375" cy="369" r="5" fill="#b01020" opacity="0.2"/>
</g></g>
<g clip-path="url(#c2)" filter="url(#bl)">
<ellipse cx="360.4" cy="317.0" rx="3.1" ry="2.3" transform="rotate(16 360.4 317.0)" fill="rgb(9,9,105)"/>
<ellipse cx="371.0" cy="315.3" rx="3.4" ry="3.1" transform="rotate(104 371.0 315.3)" fill="rgb(9,9,105)"/>
<ellipse cx="383.3" cy="315.4" rx="3.0" ry="3.0" transform="rotate(33 383.3 315.4)" fill="rgb(11,11,131)"/>
<ellipse cx="396.9" cy="315.1" rx="3.4" ry="2.6" transform="rotate(57 396.9 315.1)" fill="rgb(11,11,132)"/>
<ellipse cx="427.1" cy="319.1" rx="3.1" ry="3.0" transform="rotate(27 427.1 319.1)" fill="rgb(10,10,112)"/>
<ellipse cx="442.9" cy="318.7" rx="3.4" ry="2.8" transform="rotate(104 442.9 318.7)" fill="rgb(10,10,116)"/>
<ellipse cx="477.0" cy="316.8" rx="2.7" ry="2.3" transform="rotate(138 477.0 316.8)" fill="rgb(7,7,87)"/>
<ellipse cx="379.6" cy="323.2" rx="3.7" ry="3.2" transform="rotate(27 379.6 323.2)" fill="rgb(7,7,88)"/>
<ellipse cx="395.5" cy="322.5" rx="3.1" ry="2.6" transform="rotate(102 395.5 322.5)" fill="rgb(15,15,170)"/>
<ellipse cx="423.9" cy="323.1" rx="3.4" ry="2.3" transform="rotate(12 423.9 323.1)" fill="rgb(7,7,87)"/>
<ellipse cx="430.2" cy="322.9" rx="2.6" ry="2.4" transform="rotate(18 430.2 322.9)" fill="rgb(8,8,99)"/>
<ellipse cx="444.7" cy="322.5" rx="3.0" ry="2.3" transform="rotate(153 444.7 322.5)" fill="rgb(15,15,170)"/>
<ellipse cx="453.4" cy="323.5" rx="2.7" ry="2.5" transform="rotate(48 453.4 323.5)" fill="rgb(14,14,159)"/>
<ellipse cx="484.3" cy="324.4" rx="3.0" ry="2.4" transform="rotate(139 484.3 324.4)" fill="rgb(11,11,129)"/>
<ellipse cx="356.2" cy="329.4" rx="3.6" ry="3.2" transform="rotate(153 356.2 329.4)" fill="rgb(12,12,142)"/>
<ellipse cx="363.7" cy="331.2" rx="3.2" ry="2.6" transform="rotate(5 363.7 331.2)" fill="rgb(6,6,71)"/>
<ellipse cx="386.3" cy="332.1" rx="2.9" ry="2.4" transform="rotate(35 386.3 332.1)" fill="rgb(8,8,99)"/>
<ellipse cx="419.3" cy="331.4" rx="3.6" ry="3.2" transform="rotate(71 419.3 331.4)" fill="rgb(10,10,112)"/>
<ellipse cx="430.0" cy="331.1" rx="2.8" ry="2.4" transform="rotate(163 430.0 331.1)" fill="rgb(13,13,148)"/>
<ellipse cx="470.5" cy="329.0" rx="2.9" ry="2.8" transform="rotate(47 470.5 329.0)" fill="rgb(10,10,118)"/>
<ellipse cx="477.5" cy="331.9" rx="3.1" ry="2.8" transform="rotate(163 477.5 331.9)" fill="rgb(10,10,121)"/>
<ellipse cx="388.1" cy="335.9" rx="3.3" ry="3.0" transform="rotate(19 388.1 335.9)" fill="rgb(12,12,142)"/>
<ellipse cx="424.1" cy="336.9" rx="3.7" ry="2.9" transform="rotate(158 424.1 336.9)" fill="rgb(15,15,177)"/>
<ellipse cx="440.4" cy="335.1" rx="3.1" ry="2.3" transform="rotate(43 440.4 335.1)" fill="rgb(7,7,84)"/>
<ellipse cx="466.9" cy="338.7" rx="3.2" ry="3.2" transform="rotate(150 466.9 338.7)" fill="rgb(8,8,98)"/>
<ellipse cx="475.1" cy="336.8" rx="2.8" ry="2.5" transform="rotate(130 475.1 336.8)" fill="rgb(7,7,81)"/>
<ellipse cx="483.0" cy="336.4" rx="3.0" ry="2.8" transform="rotate(92 483.0 336.4)" fill="rgb(7,7,86)"/>
<ellipse cx="360.6" cy="342.2" rx="3.5" ry="2.5" transform="rotate(23 360.6 342.2)" fill="rgb(10,10,122)"/>
<ellipse cx="371.4" cy="344.7" rx="2.8" ry="3.1" transform="rotate(103 371.4 344.7)" fill="rgb(14,14,160)"/>
<ellipse cx="392.1" cy="344.6" rx="3.6" ry="2.3" transform="rotate(155 392.1 344.6)" fill="rgb(12,12,140)"/>
<ellipse cx="405.1" cy="341.6" rx="2.9" ry="2.3" transform="rotate(29 405.1 341.6)" fill="rgb(7,7,87)"/>
<ellipse cx="412.1" cy="342.5" rx="3.5" ry="2.5" transform="rotate(90 412.1 342.5)" fill="rgb(9,9,102)"/>
<ellipse cx="420.0" cy="341.2" rx="2.6" ry="2.9" transform="rotate(99 420.0 341.2)" fill="rgb(9,9,102)"/>
<ellipse cx="427.9" cy="345.2" rx="3.6" ry="2.6" transform="rotate(89 427.9 345.2)" fill="rgb(16,16,185)"/>
<ellipse cx="450.8" cy="343.9" rx="3.0" ry="2.3" transform="rotate(23 450.8 343.9)" fill="rgb(8,8,91)"/>
<ellipse cx="458.3" cy="342.2" rx="2.7" ry="3.0" transform="rotate(157 458.3 342.2)" fill="rgb(14,14,159)"/>
<ellipse cx="463.5" cy="342.1" rx="3.2" ry="2.4" transform="rotate(80 463.5 342.1)" fill="rgb(10,10,112)"/>
<ellipse cx="473.8" cy="345.4" rx="2.9" ry="3.2" transform="rotate(56 473.8 345.4)" fill="rgb(11,11,126)"/>
<ellipse cx="476.9" cy="342.8" rx="3.2" ry="2.4" transform="rotate(91 476.9 342.8)" fill="rgb(7,7,83)"/>
<ellipse cx="357.6" cy="348.0" rx="2.7" ry="2.2" transform="rotate(55 357.6 348.0)" fill="rgb(9,9,107)"/>
<ellipse cx="386.3" cy="350.8" rx="2.7" ry="3.0" transform="rotate(161 386.3 350.8)" fill="rgb(15,15,168)"/>
<ellipse cx="396.2" cy="351.2" rx="3.2" ry="2.7" transform="rotate(150 396.2 351.2)" fill="rgb(16,16,188)"/>
<ellipse cx="410.6" cy="350.7" rx="2.6" ry="2.3" transform="rotate(65 410.6 350.7)" fill="rgb(9,9,100)"/>
<ellipse cx="418.5" cy="350.1" rx="3.4" ry="2.9" transform="rotate(88 418.5 350.1)" fill="rgb(7,7,88)"/>
<ellipse cx="425.7" cy="350.9" rx="3.2" ry="2.9" transform="rotate(12 425.7 350.9)" fill="rgb(16,16,181)"/>
<ellipse cx="430.6" cy="348.0" rx="3.5" ry="2.4" transform="rotate(133 430.6 348.0)" fill="rgb(18,18,209)"/>
<ellipse cx="438.9" cy="349.3" rx="3.4" ry="3.0" transform="rotate(111 438.9 349.3)" fill="rgb(15,15,168)"/>
<ellipse cx="444.4" cy="348.3" rx="3.5" ry="2.5" transform="rotate(102 444.4 348.3)" fill="rgb(7,7,88)"/>
<ellipse cx="451.6" cy="348.8" rx="3.4" ry="2.9" transform="rotate(52 451.6 348.8)" fill="rgb(13,13,148)"/>
<ellipse cx="460.7" cy="349.7" rx="3.7" ry="2.4" transform="rotate(176 460.7 349.7)" fill="rgb(17,17,199)"/>
<ellipse cx="477.5" cy="349.6" rx="2.9" ry="3.1" transform="rotate(38 477.5 349.6)" fill="rgb(14,14,156)"/>
<ellipse cx="353.4" cy="357.8" rx="3.7" ry="2.9" transform="rotate(42 353.4 357.8)" fill="rgb(16,16,188)"/>
<ellipse cx="362.2" cy="354.3" rx="3.2" ry="2.7" transform="rotate(54 362.2 354.3)" fill="rgb(8,8,99)"/>
<ellipse cx="382.5" cy="358.3" rx="3.7" ry="2.5" transform="rotate(67 382.5 358.3)" fill="rgb(12,12,137)"/>
<ellipse cx="393.7" cy="356.8" rx="3.1" ry="2.5" transform="rotate(9 393.7 356.8)" fill="rgb(9,9,102)"/>
<ellipse cx="405.0" cy="355.4" rx="2.8" ry="2.6" transform="rotate(172 405.0 355.4)" fill="rgb(17,17,198)"/>
<ellipse cx="422.6" cy="356.6" rx="2.7" ry="2.9" transform="rotate(81 422.6 356.6)" fill="rgb(16,16,184)"/>
<ellipse cx="428.6" cy="355.5" rx="3.7" ry="2.3" transform="rotate(85 428.6 355.5)" fill="rgb(11,11,133)"/>
<ellipse cx="441.5" cy="357.1" rx="3.3" ry="2.6" transform="rotate(30 441.5 357.1)" fill="rgb(9,9,109)"/>
<ellipse cx="448.6" cy="358.2" rx="2.9" ry="3.1" transform="rotate(179 448.6 358.2)" fill="rgb(12,12,143)"/>
<ellipse cx="455.6" cy="355.1" rx="3.0" ry="2.3" transform="rotate(43 455.6 355.1)" fill="rgb(10,10,118)"/>
<ellipse cx="471.4" cy="356.0" rx="3.1" ry="2.5" transform="rotate(11 471.4 356.0)" fill="rgb(10,10,121)"/>
<ellipse cx="481.2" cy="354.8" rx="3.4" ry="3.1" transform="rotate(39 481.2 354.8)" fill="rgb(10,10,120)"/>
<ellipse cx="357.5" cy="362.5" rx="3.7" ry="3.0" transform="rotate(157 357.5 362.5)" fill="rgb(7,7,87)"/>
<ellipse cx="373.1" cy="363.4" rx="3.1" ry="3.1" transform="rotate(149 373.1 363.4)" fill="rgb(17,17,190)"/>
<ellipse cx="382.6" cy="361.9" rx="2.8" ry="2.7" transform="rotate(123 382.6 361.9)" fill="rgb(18,18,205)"/>
<ellipse cx="388.8" cy="363.6" rx="3.1" ry="2.8" transform="rotate(7 388.8 363.6)" fill="rgb(16,16,188)"/>
<ellipse cx="394.0" cy="364.8" rx="3.0" ry="2.3" transform="rotate(45 394.0 364.8)" fill="rgb(15,15,171)"/>
<ellipse cx="403.3" cy="361.3" rx="3.2" ry="2.8" transform="rotate(70 403.3 361.3)" fill="rgb(10,10,119)"/>
<ellipse cx="410.2" cy="360.8" rx="3.2" ry="3.2" transform="rotate(116 410.2 360.8)" fill="rgb(18,18,202)"/>
<ellipse cx="416.9" cy="361.8" rx="3.8" ry="2.9" transform="rotate(55 416.9 361.8)" fill="rgb(8,8,93)"/>
<ellipse cx="424.3" cy="363.8" rx="2.9" ry="2.9" transform="rotate(167 424.3 363.8)" fill="rgb(10,10,119)"/>
<ellipse cx="429.6" cy="362.3" rx="3.4" ry="2.4" transform="rotate(143 429.6 362.3)" fill="rgb(16,16,183)"/>
<ellipse cx="445.4" cy="364.4" rx="2.9" ry="3.0" transform="rotate(53 445.4 364.4)" fill="rgb(18,18,208)"/>
<ellipse cx="453.5" cy="361.6" rx="3.1" ry="2.9" transform="rotate(171 453.5 361.6)" fill="rgb(9,9,106)"/>
<ellipse cx="466.6" cy="361.0" rx="3.1" ry="3.1" transform="rotate(159 466.6 361.0)" fill="rgb(16,16,178)"/>
<ellipse cx="477.6" cy="364.9" rx="2.8" ry="3.1" transform="rotate(134 477.6 364.9)" fill="rgb(8,8,93)"/>
<ellipse cx="483.5" cy="362.5" rx="3.0" ry="2.4" transform="rotate(1 483.5 362.5)" fill="rgb(11,11,123)"/>
<ellipse cx="354.3" cy="371.6" rx="3.8" ry="2.4" transform="rotate(64 354.3 371.6)" fill="rgb(16,16,184)"/>
<ellipse cx="363.7" cy="369.3" rx="3.2" ry="2.6" transform="rotate(166 363.7 369.3)" fill="rgb(9,9,109)"/>
<ellipse cx="369.0" cy="371.3" rx="3.1" ry="3.0" transform="rotate(138 369.0 371.3)" fill="rgb(8,8,91)"/>
<ellipse cx="399.3" cy="368.5" rx="3.0" ry="2.5" transform="rotate(1 399.3 368.5)" fill="rgb(17,17,189)"/>
<ellipse cx="411.3" cy="368.4" rx="3.7" ry="3.2" transform="rotate(70 411.3 368.4)" fill="rgb(11,11,125)"/>
<ellipse cx="426.6" cy="370.9" rx="3.6" ry="3.0" transform="rotate(109 426.6 370.9)" fill="rgb(11,11,132)"/>
<ellipse cx="440.7" cy="368.2" rx="2.9" ry="2.3" transform="rotate(6 440.7 368.2)" fill="rgb(14,14,159)"/>
<ellipse cx="459.3" cy="368.5" rx="2.7" ry="2.7" transform="rotate(128 459.3 368.5)" fill="rgb(13,13,145)"/>
<ellipse cx="463.3" cy="369.2" rx="3.4" ry="2.9" transform="rotate(152 463.3 369.2)" fill="rgb(15,15,173)"/>
<ellipse cx="470.1" cy="371.1" rx="3.3" ry="2.6" transform="rotate(133 470.1 371.1)" fill="rgb(10,10,115)"/>
<ellipse cx="478.0" cy="368.4" rx="3.7" ry="2.8" transform="rotate(59 478.0 368.4)" fill="rgb(12,12,139)"/>
<ellipse cx="360.8" cy="376.2" rx="3.6" ry="2.9" transform="rotate(178 360.8 376.2)" fill="rgb(8,8,96)"/>
<ellipse cx="375.1" cy="374.1" rx="2.7" ry="2.4" transform="rotate(175 375.1 374.1)" fill="rgb(14,14,158)"/>
<ellipse cx="397.1" cy="374.4" rx="3.3" ry="2.4" transform="rotate(66 397.1 374.4)" fill="rgb(9,9,110)"/>
<ellipse cx="401.1" cy="375.1" rx="3.4" ry="2.4" transform="rotate(2 401.1 375.1)" fill="rgb(12,12,135)"/>
<ellipse cx="410.5" cy="374.7" rx="2.8" ry="3.0" transform="rotate(99 410.5 374.7)" fill="rgb(9,9,102)"/>
<ellipse cx="415.3" cy="375.7" rx="3.4" ry="2.3" transform="rotate(29 415.3 375.7)" fill="rgb(16,16,182)"/>
<ellipse cx="424.0" cy="375.2" rx="3.7" ry="2.5" transform="rotate(102 424.0 375.2)" fill="rgb(12,12,136)"/>
<ellipse cx="438.4" cy="374.8" rx="2.8" ry="2.2" transform="rotate(162 438.4 374.8)" fill="rgb(12,12,142)"/>
<ellipse cx="453.4" cy="374.6" rx="3.3" ry="2.8" transform="rotate(164 453.4 374.6)" fill="rgb(9,9,100)"/>
<ellipse cx="461.4" cy="375.6" rx="2.8" ry="2.5" transform="rotate(94 461.4 375.6)" fill="rgb(18,18,204)"/>
<ellipse cx="477.5" cy="374.8" rx="3.7" ry="3.2" transform="rotate(87 477.5 374.8)" fill="rgb(8,8,96)"/>
<ellipse cx="355.5" cy="384.1" rx="3.5" ry="2.4" transform="rotate(73 355.5 384.1)" fill="rgb(15,15,176)"/>
<ellipse cx="363.7" cy="381.3" rx="3.1" ry="2.7" transform="rotate(69 363.7 381.3)" fill="rgb(8,8,96)"/>
<ellipse cx="382.2" cy="384.2" rx="3.3" ry="2.8" transform="rotate(113 382.2 384.2)" fill="rgb(11,11,125)"/>
<ellipse cx="391.1" cy="383.1" rx="3.4" ry="2.6" transform="rotate(79 391.1 383.1)" fill="rgb(8,8,94)"/>
<ellipse cx="399.3" cy="382.7" rx="3.5" ry="3.0" transform="rotate(82 399.3 382.7)" fill="rgb(10,10,115)"/>
<ellipse cx="406.0" cy="381.0" rx="3.1" ry="2.3" transform="rotate(80 406.0 381.0)" fill="rgb(14,14,160)"/>
<ellipse cx="411.4" cy="383.3" rx="3.5" ry="3.0" transform="rotate(92 411.4 383.3)" fill="rgb(9,9,100)"/>
<ellipse cx="436.3" cy="384.1" rx="3.8" ry="2.7" transform="rotate(172 436.3 384.1)" fill="rgb(17,17,199)"/>
<ellipse cx="455.7" cy="384.4" rx="3.6" ry="2.3" transform="rotate(90 455.7 384.4)" fill="rgb(18,18,200)"/>
<ellipse cx="463.2" cy="381.7" rx="3.0" ry="2.2" transform="rotate(33 463.2 381.7)" fill="rgb(9,9,108)"/>
<ellipse cx="477.6" cy="384.0" rx="3.2" ry="2.8" transform="rotate(65 477.6 384.0)" fill="rgb(17,17,194)"/>
<ellipse cx="372.8" cy="390.6" rx="3.8" ry="2.8" transform="rotate(65 372.8 390.6)" fill="rgb(15,15,170)"/>
<ellipse cx="385.9" cy="390.7" rx="3.4" ry="3.2" transform="rotate(105 385.9 390.7)" fill="rgb(15,15,172)"/>
<ellipse cx="394.3" cy="387.1" rx="2.8" ry="2.8" transform="rotate(78 394.3 387.1)" fill="rgb(14,14,157)"/>
<ellipse cx="404.2" cy="387.7" rx="3.4" ry="2.2" transform="rotate(0 404.2 387.7)" fill="rgb(12,12,139)"/>
<ellipse cx="408.0" cy="388.6" rx="3.3" ry="2.8" transform="rotate(37 408.0 388.6)" fill="rgb(15,15,176)"/>
<ellipse cx="423.2" cy="387.7" rx="3.4" ry="3.1" transform="rotate(141 423.2 387.7)" fill="rgb(12,12,139)"/>
<ellipse cx="430.6" cy="387.1" rx="3.3" ry="2.6" transform="rotate(116 430.6 387.1)" fill="rgb(12,12,141)"/>
<ellipse cx="440.9" cy="390.3" rx="3.7" ry="2.2" transform="rotate(96 440.9 390.3)" fill="rgb(12,12,135)"/>
<ellipse cx="459.3" cy="387.9" rx="3.2" ry="2.8" transform="rotate(146 459.3 387.9)" fill="rgb(9,9,108)"/>
<ellipse cx="467.3" cy="388.4" rx="3.7" ry="3.0" transform="rotate(129 467.3 388.4)" fill="rgb(7,7,87)"/>
<ellipse cx="477.0" cy="390.3" rx="3.5" ry="2.7" transform="rotate(41 477.0 390.3)" fill="rgb(8,8,99)"/>
<ellipse cx="481.6" cy="387.2" rx="3.5" ry="2.9" transform="rotate(152 481.6 387.2)" fill="rgb(15,15,173)"/>
<ellipse cx="354.0" cy="396.1" rx="3.5" ry="2.7" transform="rotate(48 354.0 396.1)" fill="rgb(13,13,146)"/>
<ellipse cx="367.5" cy="394.8" rx="3.5" ry="3.1" transform="rotate(134 367.5 394.8)" fill="rgb(10,10,114)"/>
<ellipse cx="378.6" cy="395.1" rx="3.7" ry="2.8" transform="rotate(125 378.6 395.1)" fill="rgb(14,14,162)"/>
<ellipse cx="392.4" cy="397.4" rx="3.5" ry="2.8" transform="rotate(55 392.4 397.4)" fill="rgb(10,10,114)"/>
<ellipse cx="404.5" cy="393.8" rx="3.7" ry="2.5" transform="rotate(26 404.5 393.8)" fill="rgb(8,8,96)"/>
<ellipse cx="411.4" cy="396.7" rx="3.4" ry="2.9" transform="rotate(12 411.4 396.7)" fill="rgb(14,14,165)"/>
<ellipse cx="437.1" cy="397.8" rx="2.8" ry="2.3" transform="rotate(6 437.1 397.8)" fill="rgb(16,16,186)"/>
<ellipse cx="450.5" cy="394.9" rx="2.7" ry="3.0" transform="rotate(37 450.5 394.9)" fill="rgb(11,11,123)"/>
<ellipse cx="456.9" cy="393.7" rx="2.9" ry="2.9" transform="rotate(66 456.9 393.7)" fill="rgb(11,11,123)"/>
<ellipse cx="472.3" cy="393.8" rx="3.1" ry="3.0" transform="rotate(62 472.3 393.8)" fill="rgb(15,15,169)"/>
<ellipse cx="356.8" cy="403.8" rx="2.6" ry="2.4" transform="rotate(137 356.8 403.8)" fill="rgb(16,16,179)"/>
<ellipse cx="374.6" cy="401.0" rx="3.0" ry="3.0" transform="rotate(47 374.6 401.0)" fill="rgb(16,16,185)"/>
<ellipse cx="387.8" cy="400.7" rx="2.7" ry="3.0" transform="rotate(125 387.8 400.7)" fill="rgb(16,16,179)"/>
<ellipse cx="395.7" cy="401.8" rx="3.1" ry="3.1" transform="rotate(16 395.7 401.8)" fill="rgb(17,17,193)"/>
<ellipse cx="400.4" cy="401.1" rx="3.7" ry="2.7" transform="rotate(68 400.4 401.1)" fill="rgb(17,17,195)"/>
<ellipse cx="408.6" cy="402.2" rx="3.5" ry="3.0" transform="rotate(116 408.6 402.2)" fill="rgb(11,11,131)"/>
<ellipse cx="425.1" cy="403.5" rx="3.1" ry="3.0" transform="rotate(104 425.1 403.5)" fill="rgb(9,9,101)"/>
<ellipse cx="431.5" cy="404.1" rx="2.8" ry="2.5" transform="rotate(127 431.5 404.1)" fill="rgb(16,16,186)"/>
<ellipse cx="437.4" cy="400.9" rx="3.0" ry="2.7" transform="rotate(29 437.4 400.9)" fill="rgb(11,11,124)"/>
<ellipse cx="451.8" cy="404.4" rx="3.1" ry="3.2" transform="rotate(143 451.8 404.4)" fill="rgb(14,14,164)"/>
<ellipse cx="466.4" cy="401.1" rx="2.6" ry="2.6" transform="rotate(142 466.4 401.1)" fill="rgb(14,14,162)"/>
<ellipse cx="475.5" cy="403.0" rx="2.8" ry="2.8" transform="rotate(73 475.5 403.0)" fill="rgb(14,14,166)"/>
<ellipse cx="484.5" cy="402.1" rx="3.5" ry="2.6" transform="rotate(41 484.5 402.1)" fill="rgb(14,14,165)"/>
<ellipse cx="385.1" cy="409.6" rx="3.1" ry="2.7" transform="rotate(112 385.1 409.6)" fill="rgb(11,11,125)"/>
<ellipse cx="392.3" cy="410.9" rx="3.4" ry="3.0" transform="rotate(70 392.3 410.9)" fill="rgb(12,12,135)"/>
<ellipse cx="400.9" cy="406.9" rx="2.8" ry="3.0" transform="rotate(169 400.9 406.9)" fill="rgb(13,13,145)"/>
<ellipse cx="404.3" cy="409.3" rx="3.5" ry="2.7" transform="rotate(115 404.3 409.3)" fill="rgb(16,16,180)"/>
<ellipse cx="419.4" cy="409.8" rx="3.5" ry="2.3" transform="rotate(177 419.4 409.8)" fill="rgb(11,11,127)"/>
<ellipse cx="426.0" cy="408.0" rx="2.6" ry="2.6" transform="rotate(76 426.0 408.0)" fill="rgb(15,15,169)"/>
<ellipse cx="434.6" cy="407.9" rx="3.5" ry="3.1" transform="rotate(95 434.6 407.9)" fill="rgb(9,9,110)"/>
<ellipse cx="443.9" cy="408.5" rx="2.8" ry="3.0" transform="rotate(146 443.9 408.5)" fill="rgb(13,13,154)"/>
<ellipse cx="449.8" cy="409.3" rx="3.8" ry="2.6" transform="rotate(115 449.8 409.3)" fill="rgb(15,15,171)"/>
<ellipse cx="458.6" cy="408.8" rx="3.3" ry="2.3" transform="rotate(150 458.6 408.8)" fill="rgb(10,10,119)"/>
<ellipse cx="466.0" cy="408.0" rx="2.9" ry="2.6" transform="rotate(33 466.0 408.0)" fill="rgb(7,7,80)"/>
<ellipse cx="472.8" cy="408.0" rx="3.0" ry="2.7" transform="rotate(77 472.8 408.0)" fill="rgb(13,13,151)"/>
<ellipse cx="367.7" cy="416.8" rx="3.6" ry="2.8" transform="rotate(3 367.7 416.8)" fill="rgb(6,6,75)"/>
<ellipse cx="375.2" cy="416.2" rx="2.7" ry="2.3" transform="rotate(42 375.2 416.2)" fill="rgb(14,14,158)"/>
<ellipse cx="408.4" cy="416.4" rx="3.5" ry="2.6" transform="rotate(159 408.4 416.4)" fill="rgb(13,13,145)"/>
<ellipse cx="416.0" cy="414.4" rx="3.2" ry="2.3" transform="rotate(84 416.0 414.4)" fill="rgb(9,9,100)"/>
<ellipse cx="424.3" cy="415.5" rx="3.6" ry="2.2" transform="rotate(151 424.3 415.5)" fill="rgb(12,12,140)"/>
<ellipse cx="482.0" cy="417.1" rx="3.2" ry="2.7" transform="rotate(139 482.0 417.1)" fill="rgb(9,9,101)"/>
<ellipse cx="369.2" cy="422.1" rx="3.2" ry="3.2" transform="rotate(118 369.2 422.1)" fill="rgb(14,14,157)"/>
<ellipse cx="376.2" cy="421.3" rx="3.3" ry="2.8" transform="rotate(141 376.2 421.3)" fill="rgb(7,7,80)"/>
<ellipse cx="389.5" cy="421.2" rx="2.8" ry="3.1" transform="rotate(110 389.5 421.2)" fill="rgb(13,13,150)"/>
<ellipse cx="413.8" cy="422.9" rx="3.4" ry="2.7" transform="rotate(137 413.8 422.9)" fill="rgb(8,8,95)"/>
<ellipse cx="429.8" cy="422.8" rx="3.6" ry="3.0" transform="rotate(101 429.8 422.8)" fill="rgb(10,10,117)"/>
<ellipse cx="434.4" cy="421.8" rx="3.1" ry="2.8" transform="rotate(168 434.4 421.8)" fill="rgb(8,8,91)"/>
<ellipse cx="442.9" cy="420.1" rx="3.6" ry="2.8" transform="rotate(165 442.9 420.1)" fill="rgb(11,11,132)"/>
<ellipse cx="459.1" cy="424.2" rx="3.1" ry="2.3" transform="rotate(116 459.1 424.2)" fill="rgb(9,9,101)"/>
<ellipse cx="463.0" cy="420.0" rx="3.4" ry="2.3" transform="rotate(174 463.0 420.0)" fill="rgb(7,7,87)"/>
<ellipse cx="473.4" cy="420.5" rx="3.5" ry="2.4" transform="rotate(132 473.4 420.5)" fill="rgb(8,8,98)"/>
<ellipse cx="360.2" cy="429.7" rx="3.4" ry="2.9" transform="rotate(83 360.2 429.7)" fill="rgb(15,15,170)"/>
<ellipse cx="381.9" cy="426.8" rx="3.5" ry="2.4" transform="rotate(155 381.9 426.8)" fill="rgb(11,11,129)"/>
<ellipse cx="394.9" cy="429.5" rx="3.6" ry="2.6" transform="rotate(116 394.9 429.5)" fill="rgb(13,13,149)"/>
<ellipse cx="411.7" cy="429.9" rx="3.0" ry="2.3" transform="rotate(175 411.7 429.9)" fill="rgb(14,14,163)"/>
<ellipse cx="418.5" cy="428.0" rx="3.8" ry="3.0" transform="rotate(108 418.5 428.0)" fill="rgb(10,10,120)"/>
<ellipse cx="424.0" cy="430.4" rx="3.4" ry="2.8" transform="rotate(161 424.0 430.4)" fill="rgb(16,16,180)"/>
<ellipse cx="430.7" cy="426.5" rx="3.1" ry="2.8" transform="rotate(147 430.7 426.5)" fill="rgb(17,17,192)"/>
<ellipse cx="447.9" cy="429.0" rx="3.6" ry="3.0" transform="rotate(123 447.9 429.0)" fill="rgb(16,16,180)"/>
<ellipse cx="476.2" cy="428.5" rx="2.9" ry="3.0" transform="rotate(142 476.2 428.5)" fill="rgb(11,11,128)"/>
<circle cx="363.5" cy="376.5" r="1.3" fill="#2a3cff"/>
<circle cx="381" cy="377.5" r="1.0" fill="#2a3cff"/>
<circle cx="398" cy="346.5" r="1.0" fill="#2a3cff"/>
<circle cx="369" cy="331" r="0.9" fill="#2a3cff"/>
<circle cx="422.8" cy="355.6" r="1.5" fill="#e01818" opacity="0.95"/>
<circle cx="381.5" cy="348.5" r="1.6" fill="#e01818" opacity="0.7"/>
<circle cx="422.5" cy="382.5" r="1.6" fill="#e01818" opacity="0.8"/>
<circle cx="456.5" cy="387.5" r="1.3" fill="#e01818" opacity="0.9"/>
<circle cx="367.5" cy="405" r="1.2" fill="#e01818" opacity="0.7"/>
<circle cx="456.5" cy="404" r="1.0" fill="#e01818" opacity="0.8"/>
<circle cx="437" cy="340.5" r="1.2" fill="#e01818" opacity="0.5"/>
</g>
<text x="408" y="330.8" font-size="8.3" text-anchor="start" font-weight="normal" font-style="normal" fill="#fff" textLength="45.3" lengthAdjust="spacingAndGlyphs">10min ADP</text>
<line x1="438.8" y1="413.6" x2="456.8" y2="413.6" stroke="#eee" stroke-width="1.5"/>
<rect x="0" y="0" width="520" height="1.2" fill="#000"/>
<rect x="0" y="0" width="1.2" height="672" fill="#000"/>
<rect x="518.9" y="0" width="1.1" height="672" fill="#000"/>
<rect x="0" y="670.6" width="520" height="1.4" fill="#000"/>
</svg></body></html>
